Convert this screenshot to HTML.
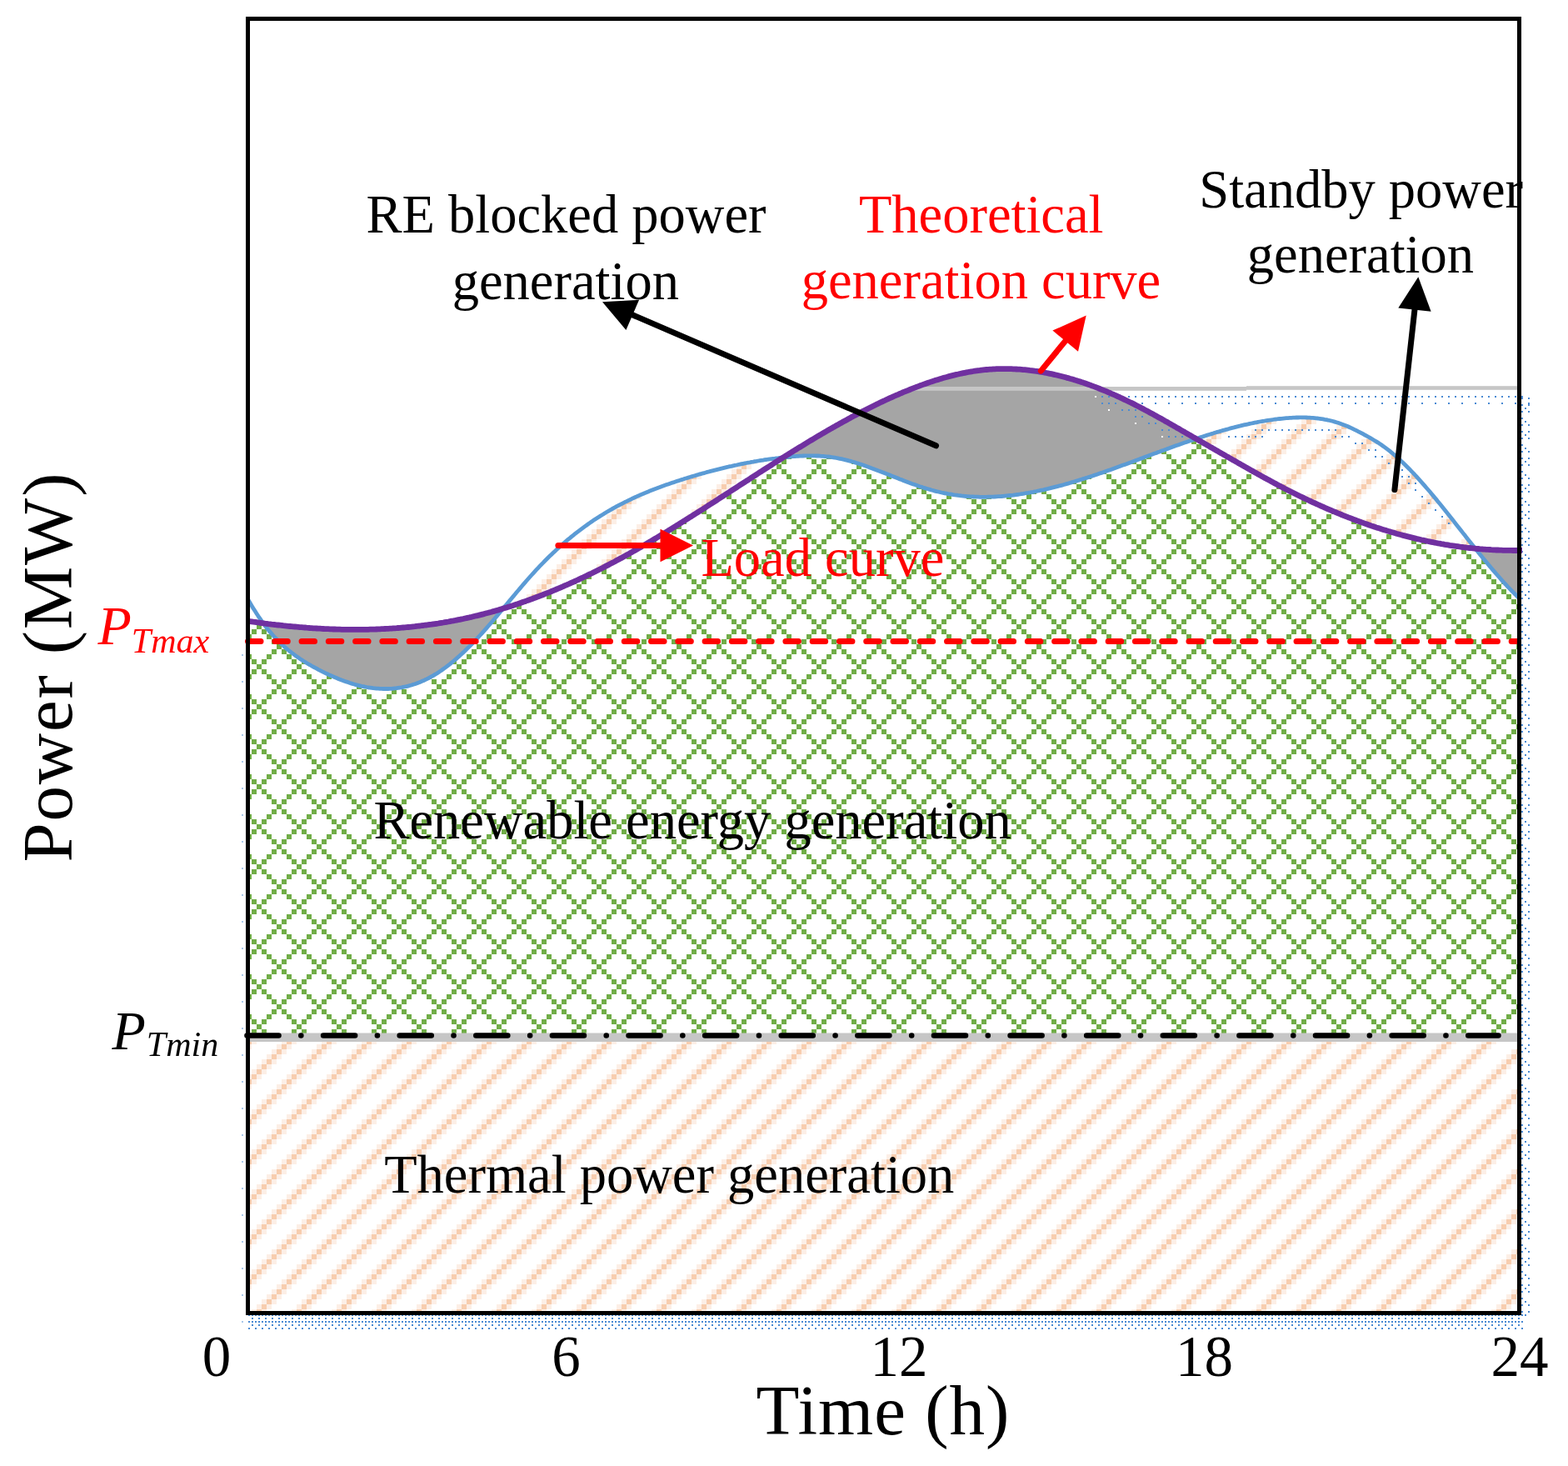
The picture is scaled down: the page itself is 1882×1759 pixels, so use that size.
<!DOCTYPE html>
<html><head><meta charset="utf-8"><title>Power generation chart</title><style>
html,body{margin:0;padding:0;background:#fff;}
svg{display:block;}
text{font-family:"Liberation Serif","Times New Roman",serif;}
</style></head><body>
<svg width="1882" height="1759" viewBox="0 0 1882 1759">
<defs>
<pattern id="pg" patternUnits="userSpaceOnUse" x="44" y="5" width="48" height="48">
<rect width="48" height="48" fill="#fff"/><g fill="#70ad47" shape-rendering="crispEdges"><rect x="0" y="0" width="6" height="6"/><rect x="6" y="6" width="6" height="6"/><rect x="6" y="42" width="6" height="6"/><rect x="12" y="12" width="6" height="6"/><rect x="12" y="36" width="6" height="6"/><rect x="18" y="18" width="6" height="6"/><rect x="18" y="30" width="6" height="6"/><rect x="24" y="24" width="6" height="6"/><rect x="30" y="18" width="6" height="6"/><rect x="30" y="30" width="6" height="6"/><rect x="36" y="12" width="6" height="6"/><rect x="36" y="36" width="6" height="6"/><rect x="42" y="6" width="6" height="6"/><rect x="42" y="42" width="6" height="6"/></g></pattern>
<pattern id="po" patternUnits="userSpaceOnUse" x="14" y="41" width="48" height="48">
<rect width="48" height="48" fill="#fff"/><g fill="#f7cdaf" shape-rendering="crispEdges"><rect x="0" y="0" width="6" height="6"/><rect x="6" y="42" width="6" height="6"/><rect x="12" y="36" width="6" height="6"/><rect x="18" y="30" width="6" height="6"/><rect x="24" y="24" width="6" height="6"/><rect x="30" y="18" width="6" height="6"/><rect x="36" y="12" width="6" height="6"/><rect x="42" y="6" width="6" height="6"/></g><g fill="#fcefe6" shape-rendering="crispEdges"><rect x="0" y="6" width="6" height="6"/><rect x="6" y="0" width="6" height="6"/><rect x="12" y="42" width="6" height="6"/><rect x="18" y="36" width="6" height="6"/><rect x="24" y="30" width="6" height="6"/><rect x="30" y="24" width="6" height="6"/><rect x="36" y="18" width="6" height="6"/><rect x="42" y="12" width="6" height="6"/><rect x="0" y="42" width="6" height="6"/><rect x="6" y="36" width="6" height="6"/><rect x="12" y="30" width="6" height="6"/><rect x="18" y="24" width="6" height="6"/><rect x="24" y="18" width="6" height="6"/><rect x="30" y="12" width="6" height="6"/><rect x="36" y="6" width="6" height="6"/><rect x="42" y="0" width="6" height="6"/></g></pattern>
<clipPath id="plot"><rect x="300" y="25" width="1521" height="1548"/></clipPath>
<clipPath id="plotr"><rect x="280" y="25" width="1541" height="1548"/></clipPath>
<clipPath id="plotw"><rect x="295" y="20" width="1532" height="1558"/></clipPath>
</defs>
<rect width="1882" height="1759" fill="#fff"/>
<g clip-path="url(#plot)">
<polygon points="300,723.2 302,726.6 304,729.9 306,733.1 308,736.2 310,739.3 312,742.2 314,745.1 316,747.9 318,750.6 320,753.2 322,755.7 324,758.1 326,760.4 328,762.7 330,764.9 332,767 334,769 336,771 338,772.9 340,774.8 342,776.6 344,778.3 346,780 348,781.6 350,783.2 352,784.7 354,786.2 356,787.6 358,789 360,790.4 362,791.7 364,793 366,794.2 368,795.5 370,796.7 372,797.8 374,799 376,800.1 378,801.2 380,802.2 382,803.3 384,804.3 386,805.3 388,806.3 390,807.3 392,808.3 394,809.2 396,810.1 398,811 400,811.9 402,812.8 404,813.6 406,814.4 408,815.2 410,816 412,816.7 414,817.5 416,818.1 418,818.8 420,819.5 422,820.1 424,820.7 426,821.3 428,821.8 430,822.3 432,822.8 434,823.3 436,823.7 438,824.1 440,824.5 442,824.8 444,825.1 446,825.4 448,825.7 450,825.9 452,826.1 454,826.2 456,826.4 458,826.4 460,826.5 462,826.5 464,826.5 466,826.5 468,826.4 470,826.3 472,826.1 474,825.9 476,825.7 478,825.4 480,825.1 482,824.8 484,824.4 486,824 488,823.6 490,823.1 492,822.5 494,822 496,821.3 498,820.7 500,820 502,819.2 504,818.5 506,817.6 508,816.8 510,815.8 512,814.9 514,813.9 516,812.8 518,811.7 520,810.6 522,809.4 524,808.2 526,806.9 528,805.6 530,804.2 532,802.8 534,801.4 536,799.9 538,798.3 540,796.8 542,795.2 544,793.5 546,791.8 548,790.1 550,788.3 552,786.6 554,784.7 556,782.9 558,781 560,779 562,777.1 564,775.1 566,773.1 568,771 570,768.9 572,766.8 574,764.7 576,762.5 578,760.3 580,758.1 582,755.9 584,753.6 586,751.3 588,749 590,746.7 592,744.3 594,742 596,739.6 598,737.2 600,734.8 602,732.5 604,730.1 606,727.6 608,725.2 610,722.8 612,720.4 614,718 616,715.6 618,713.2 620,710.8 622,708.5 624,706.1 626,703.7 628,701.4 630,699.1 632,696.8 634,694.5 636,692.2 638,690 640,687.8 642,685.6 644,683.4 646,681.3 648,679.2 650,677.1 652,675.1 654,673 656,671 658,669 660,667.1 662,665.2 664,663.3 666,661.4 668,659.5 670,657.7 672,655.9 674,654.1 676,652.3 678,650.6 680,648.9 682,647.2 684,645.6 686,643.9 688,642.3 690,640.7 692,639.1 694,637.6 696,636.1 698,634.6 700,633.1 702,631.6 704,630.2 706,628.8 708,627.4 710,626 712,624.6 714,623.3 716,622 718,620.7 720,619.4 722,618.2 724,617 726,615.7 728,614.5 730,613.4 732,612.2 734,611.1 736,609.9 738,608.8 740,607.7 742,606.7 744,605.6 746,604.6 748,603.6 750,602.5 752,601.6 754,600.6 756,599.6 758,598.7 760,597.7 762,596.8 764,595.9 766,595 768,594.1 770,593.3 772,592.4 774,591.6 776,590.7 778,589.9 780,589.1 782,588.3 784,587.5 786,586.7 788,586 790,585.2 792,584.5 794,583.7 796,583 798,582.3 800,581.6 802,580.9 804,580.2 806,579.5 808,578.9 810,578.2 812,577.5 814,576.9 816,576.2 818,575.6 820,575 822,574.3 824,573.7 826,573.1 828,572.5 830,571.9 832,571.3 834,570.7 836,570.1 838,569.5 840,568.9 842,568.4 844,567.8 846,567.3 848,566.7 850,566.2 852,565.6 854,565.1 856,564.6 858,564.1 860,563.6 862,563.1 864,562.6 866,562.1 868,561.6 870,561.1 872,560.6 874,560.2 876,559.7 878,559.3 880,558.8 882,558.4 884,558 886,557.5 888,557.1 890,556.7 892,556.3 894,555.9 896,555.5 898,555.1 900,554.8 902,554.4 904,554.1 906,553.7 908,553.4 910,553 912,552.7 914,552.4 916,552.1 918,551.7 920,551.5 922,551.2 924,550.9 926,550.6 928,550.3 930,550.1 932,549.8 934,549.6 936,549.3 938,549.1 940,548.9 942,548.7 944,548.5 946,548.3 948,548.1 950,547.9 952,547.7 954,547.6 956,547.4 958,547.3 960,547.2 962,547.1 964,547 966,546.9 968,546.9 970,546.9 972,546.8 974,546.8 976,546.9 978,546.9 980,547 982,547 984,547.1 986,547.3 988,547.4 990,547.6 992,547.8 994,548 996,548.2 998,548.5 1000,548.8 1002,549.1 1004,549.5 1006,549.9 1008,550.3 1010,550.7 1012,551.2 1014,551.6 1016,552.1 1018,552.6 1020,553.2 1022,553.7 1024,554.3 1026,554.9 1028,555.5 1030,556.1 1032,556.8 1034,557.4 1036,558.1 1038,558.8 1040,559.5 1042,560.2 1044,560.9 1046,561.7 1048,562.4 1050,563.2 1052,563.9 1054,564.7 1056,565.4 1058,566.2 1060,567 1062,567.8 1064,568.6 1066,569.3 1068,570.1 1070,570.9 1072,571.7 1074,572.5 1076,573.3 1078,574.1 1080,574.9 1082,575.6 1084,576.4 1086,577.2 1088,577.9 1090,578.7 1092,579.4 1094,580.2 1096,580.9 1098,581.6 1100,582.3 1102,583 1104,583.7 1106,584.3 1108,585 1110,585.6 1112,586.2 1114,586.8 1116,587.4 1118,588 1120,588.5 1122,589.1 1124,589.6 1126,590 1128,590.5 1130,591 1132,591.4 1134,591.8 1136,592.2 1138,592.6 1140,592.9 1142,593.2 1144,593.6 1146,593.9 1148,594.1 1150,594.4 1152,594.6 1154,594.9 1156,595.1 1158,595.3 1160,595.5 1162,595.6 1164,595.8 1166,595.9 1168,596 1170,596.1 1172,596.2 1174,596.2 1176,596.3 1178,596.3 1180,596.3 1182,596.3 1184,596.3 1186,596.2 1188,596.2 1190,596.1 1192,596.1 1194,596 1196,595.9 1198,595.7 1200,595.6 1202,595.5 1204,595.3 1206,595.1 1208,594.9 1210,594.7 1212,594.5 1214,594.3 1216,594.1 1218,593.8 1220,593.5 1222,593.3 1224,593 1226,592.7 1228,592.4 1230,592 1232,591.7 1234,591.4 1236,591 1238,590.6 1240,590.3 1242,589.9 1244,589.5 1246,589 1248,588.6 1250,588.2 1252,587.8 1254,587.3 1256,586.8 1258,586.4 1260,585.9 1262,585.4 1264,584.9 1266,584.4 1268,583.9 1270,583.4 1272,582.8 1274,582.3 1276,581.8 1278,581.2 1280,580.6 1282,580.1 1284,579.5 1286,578.9 1288,578.3 1290,577.7 1292,577.1 1294,576.5 1296,575.9 1298,575.3 1300,574.6 1302,574 1304,573.4 1306,572.7 1308,572.1 1310,571.4 1312,570.7 1314,570.1 1316,569.4 1318,568.7 1320,568 1322,567.4 1324,566.7 1326,566 1328,565.3 1330,564.6 1332,563.9 1334,563.2 1336,562.4 1338,561.7 1340,561 1342,560.3 1344,559.6 1346,558.8 1348,558.1 1350,557.4 1352,556.7 1354,555.9 1356,555.2 1358,554.5 1360,553.7 1362,553 1364,552.2 1366,551.5 1368,550.8 1370,550 1372,549.3 1374,548.5 1376,547.8 1378,547.1 1380,546.3 1382,545.6 1384,544.8 1386,544.1 1388,543.4 1390,542.6 1392,541.9 1394,541.1 1396,540.4 1398,539.7 1400,539 1402,538.2 1404,537.5 1406,536.8 1408,536.1 1410,535.3 1412,534.6 1414,533.9 1416,533.2 1418,532.5 1420,531.8 1422,531.1 1424,530.4 1426,529.7 1428,529 1430,528.4 1432,527.7 1434,527 1436,526.3 1438,525.7 1440,525 1442,524.4 1444,523.7 1446,523.1 1448,522.4 1450,521.8 1452,521.2 1454,520.6 1456,520 1458,519.3 1460,518.7 1462,518.2 1464,517.6 1466,517 1468,516.4 1470,515.9 1472,515.3 1474,514.8 1476,514.2 1478,513.7 1480,513.2 1482,512.6 1484,512.1 1486,511.6 1488,511.2 1490,510.7 1492,510.2 1494,509.7 1496,509.3 1498,508.9 1500,508.4 1502,508 1504,507.6 1506,507.2 1508,506.8 1510,506.4 1512,506 1514,505.7 1516,505.3 1518,505 1520,504.7 1522,504.4 1524,504.1 1526,503.8 1528,503.5 1530,503.2 1532,503 1534,502.7 1536,502.5 1538,502.3 1540,502.1 1542,501.9 1544,501.7 1546,501.6 1548,501.4 1550,501.3 1552,501.2 1554,501.1 1556,501 1558,501 1560,500.9 1562,500.9 1564,500.9 1566,500.9 1568,501 1570,501.1 1572,501.2 1574,501.3 1576,501.4 1578,501.6 1580,501.8 1582,502 1584,502.3 1586,502.6 1588,502.9 1590,503.3 1592,503.6 1594,504.1 1596,504.5 1598,505 1600,505.5 1602,506.1 1604,506.7 1606,507.3 1608,508 1610,508.7 1612,509.4 1614,510.2 1616,511 1618,511.8 1620,512.7 1622,513.6 1624,514.6 1626,515.6 1628,516.5 1630,517.6 1632,518.6 1634,519.6 1636,520.7 1638,521.8 1640,522.9 1642,524 1644,525.1 1646,526.3 1648,527.5 1650,528.7 1652,529.9 1654,531.1 1656,532.4 1658,533.8 1660,535.2 1662,536.6 1664,538.1 1666,539.6 1668,541.2 1670,542.8 1672,544.5 1674,546.2 1676,547.9 1678,549.7 1680,551.5 1682,553.4 1684,555.3 1686,557.2 1688,559.2 1690,561.2 1692,563.2 1694,565.3 1696,567.4 1698,569.5 1700,571.7 1702,573.9 1704,576.1 1706,578.3 1708,580.6 1710,582.9 1712,585.2 1714,587.5 1716,589.8 1718,592.2 1720,594.6 1722,597 1724,599.4 1726,601.9 1728,604.3 1730,606.8 1732,609.3 1734,611.8 1736,614.3 1738,616.8 1740,619.3 1742,621.8 1744,624.3 1746,626.9 1748,629.4 1750,631.9 1752,634.5 1754,637 1756,639.6 1758,642.1 1760,644.7 1762,647.2 1764,649.7 1766,652.2 1768,654.8 1770,657.3 1772,659.8 1774,662.3 1776,664.8 1778,667.2 1780,669.7 1782,672.1 1784,674.6 1786,677 1788,679.4 1790,681.7 1792,684.1 1794,686.4 1796,688.7 1798,691 1800,693.3 1802,695.6 1804,697.8 1806,700 1808,702.1 1810,704.3 1812,706.4 1814,708.5 1816,710.5 1818,712.5 1820,714.5 1821,715.5 1821,1575.5 300,1575.5" fill="url(#po)"/>
<polygon points="300,745.6 302,745.9 304,746.2 306,746.4 308,746.7 310,747 312,747.3 314,747.5 316,747.9 318,750.6 320,753.2 322,755.7 324,758.1 326,760.4 328,762.7 330,764.9 332,767 334,769 336,771 338,772.9 340,774.8 342,776.6 344,778.3 346,780 348,781.6 350,783.2 352,784.7 354,786.2 356,787.6 358,789 360,790.4 362,791.7 364,793 366,794.2 368,795.5 370,796.7 372,797.8 374,799 376,800.1 378,801.2 380,802.2 382,803.3 384,804.3 386,805.3 388,806.3 390,807.3 392,808.3 394,809.2 396,810.1 398,811 400,811.9 402,812.8 404,813.6 406,814.4 408,815.2 410,816 412,816.7 414,817.5 416,818.1 418,818.8 420,819.5 422,820.1 424,820.7 426,821.3 428,821.8 430,822.3 432,822.8 434,823.3 436,823.7 438,824.1 440,824.5 442,824.8 444,825.1 446,825.4 448,825.7 450,825.9 452,826.1 454,826.2 456,826.4 458,826.4 460,826.5 462,826.5 464,826.5 466,826.5 468,826.4 470,826.3 472,826.1 474,825.9 476,825.7 478,825.4 480,825.1 482,824.8 484,824.4 486,824 488,823.6 490,823.1 492,822.5 494,822 496,821.3 498,820.7 500,820 502,819.2 504,818.5 506,817.6 508,816.8 510,815.8 512,814.9 514,813.9 516,812.8 518,811.7 520,810.6 522,809.4 524,808.2 526,806.9 528,805.6 530,804.2 532,802.8 534,801.4 536,799.9 538,798.3 540,796.8 542,795.2 544,793.5 546,791.8 548,790.1 550,788.3 552,786.6 554,784.7 556,782.9 558,781 560,779 562,777.1 564,775.1 566,773.1 568,771 570,768.9 572,766.8 574,764.7 576,762.5 578,760.3 580,758.1 582,755.9 584,753.6 586,751.3 588,749 590,746.7 592,744.3 594,742 596,739.6 598,737.2 600,734.8 602,732.5 604,730.1 606,729.5 608,728.9 610,728.3 612,727.7 614,727 616,726.4 618,725.7 620,725.1 622,724.4 624,723.7 626,723 628,722.3 630,721.6 632,720.9 634,720.2 636,719.5 638,718.8 640,718 642,717.3 644,716.5 646,715.8 648,715 650,714.3 652,713.5 654,712.7 656,711.9 658,711.1 660,710.3 662,709.5 664,708.7 666,707.8 668,707 670,706.2 672,705.3 674,704.5 676,703.6 678,702.7 680,701.9 682,701 684,700.1 686,699.2 688,698.3 690,697.4 692,696.5 694,695.6 696,694.6 698,693.7 700,692.8 702,691.8 704,690.9 706,689.9 708,688.9 710,688 712,687 714,686 716,685 718,684 720,683 722,682 724,681 726,679.9 728,678.9 730,677.9 732,676.8 734,675.8 736,674.7 738,673.7 740,672.6 742,671.5 744,670.4 746,669.4 748,668.3 750,667.2 752,666.1 754,665 756,663.8 758,662.7 760,661.6 762,660.5 764,659.3 766,658.2 768,657 770,655.9 772,654.7 774,653.6 776,652.4 778,651.2 780,650.1 782,648.9 784,647.7 786,646.5 788,645.3 790,644.1 792,642.9 794,641.7 796,640.5 798,639.3 800,638.1 802,636.9 804,635.6 806,634.4 808,633.2 810,632 812,630.7 814,629.5 816,628.2 818,627 820,625.7 822,624.5 824,623.2 826,622 828,620.7 830,619.5 832,618.2 834,616.9 836,615.7 838,614.4 840,613.1 842,611.8 844,610.6 846,609.3 848,608 850,606.7 852,605.4 854,604.2 856,602.9 858,601.6 860,600.3 862,599 864,597.7 866,596.4 868,595.1 870,593.9 872,592.6 874,591.3 876,590 878,588.7 880,587.4 882,586.1 884,584.8 886,583.5 888,582.2 890,580.9 892,579.6 894,578.3 896,577 898,575.8 900,574.5 902,573.2 904,571.9 906,570.6 908,569.3 910,568 912,566.7 914,565.5 916,564.2 918,562.9 920,561.6 922,560.3 924,559.1 926,557.8 928,556.5 930,555.2 932,554 934,552.7 936,551.5 938,550.2 940,548.9 942,548.7 944,548.5 946,548.3 948,548.1 950,547.9 952,547.7 954,547.6 956,547.4 958,547.3 960,547.2 962,547.1 964,547 966,546.9 968,546.9 970,546.9 972,546.8 974,546.8 976,546.9 978,546.9 980,547 982,547 984,547.1 986,547.3 988,547.4 990,547.6 992,547.8 994,548 996,548.2 998,548.5 1000,548.8 1002,549.1 1004,549.5 1006,549.9 1008,550.3 1010,550.7 1012,551.2 1014,551.6 1016,552.1 1018,552.6 1020,553.2 1022,553.7 1024,554.3 1026,554.9 1028,555.5 1030,556.1 1032,556.8 1034,557.4 1036,558.1 1038,558.8 1040,559.5 1042,560.2 1044,560.9 1046,561.7 1048,562.4 1050,563.2 1052,563.9 1054,564.7 1056,565.4 1058,566.2 1060,567 1062,567.8 1064,568.6 1066,569.3 1068,570.1 1070,570.9 1072,571.7 1074,572.5 1076,573.3 1078,574.1 1080,574.9 1082,575.6 1084,576.4 1086,577.2 1088,577.9 1090,578.7 1092,579.4 1094,580.2 1096,580.9 1098,581.6 1100,582.3 1102,583 1104,583.7 1106,584.3 1108,585 1110,585.6 1112,586.2 1114,586.8 1116,587.4 1118,588 1120,588.5 1122,589.1 1124,589.6 1126,590 1128,590.5 1130,591 1132,591.4 1134,591.8 1136,592.2 1138,592.6 1140,592.9 1142,593.2 1144,593.6 1146,593.9 1148,594.1 1150,594.4 1152,594.6 1154,594.9 1156,595.1 1158,595.3 1160,595.5 1162,595.6 1164,595.8 1166,595.9 1168,596 1170,596.1 1172,596.2 1174,596.2 1176,596.3 1178,596.3 1180,596.3 1182,596.3 1184,596.3 1186,596.2 1188,596.2 1190,596.1 1192,596.1 1194,596 1196,595.9 1198,595.7 1200,595.6 1202,595.5 1204,595.3 1206,595.1 1208,594.9 1210,594.7 1212,594.5 1214,594.3 1216,594.1 1218,593.8 1220,593.5 1222,593.3 1224,593 1226,592.7 1228,592.4 1230,592 1232,591.7 1234,591.4 1236,591 1238,590.6 1240,590.3 1242,589.9 1244,589.5 1246,589 1248,588.6 1250,588.2 1252,587.8 1254,587.3 1256,586.8 1258,586.4 1260,585.9 1262,585.4 1264,584.9 1266,584.4 1268,583.9 1270,583.4 1272,582.8 1274,582.3 1276,581.8 1278,581.2 1280,580.6 1282,580.1 1284,579.5 1286,578.9 1288,578.3 1290,577.7 1292,577.1 1294,576.5 1296,575.9 1298,575.3 1300,574.6 1302,574 1304,573.4 1306,572.7 1308,572.1 1310,571.4 1312,570.7 1314,570.1 1316,569.4 1318,568.7 1320,568 1322,567.4 1324,566.7 1326,566 1328,565.3 1330,564.6 1332,563.9 1334,563.2 1336,562.4 1338,561.7 1340,561 1342,560.3 1344,559.6 1346,558.8 1348,558.1 1350,557.4 1352,556.7 1354,555.9 1356,555.2 1358,554.5 1360,553.7 1362,553 1364,552.2 1366,551.5 1368,550.8 1370,550 1372,549.3 1374,548.5 1376,547.8 1378,547.1 1380,546.3 1382,545.6 1384,544.8 1386,544.1 1388,543.4 1390,542.6 1392,541.9 1394,541.1 1396,540.4 1398,539.7 1400,539 1402,538.2 1404,537.5 1406,536.8 1408,536.1 1410,535.3 1412,534.6 1414,533.9 1416,533.2 1418,532.5 1420,531.8 1422,531.1 1424,530.4 1426,529.7 1428,529 1430,528.4 1432,527.7 1434,527 1436,526.7 1438,527.8 1440,529 1442,530.1 1444,531.3 1446,532.4 1448,533.6 1450,534.7 1452,535.9 1454,537 1456,538.2 1458,539.3 1460,540.5 1462,541.6 1464,542.8 1466,543.9 1468,545.1 1470,546.2 1472,547.4 1474,548.5 1476,549.7 1478,550.8 1480,552 1482,553.1 1484,554.2 1486,555.4 1488,556.5 1490,557.7 1492,558.8 1494,559.9 1496,561.1 1498,562.2 1500,563.3 1502,564.5 1504,565.6 1506,566.7 1508,567.8 1510,568.9 1512,570 1514,571.2 1516,572.3 1518,573.4 1520,574.4 1522,575.5 1524,576.6 1526,577.7 1528,578.8 1530,579.9 1532,580.9 1534,582 1536,583 1538,584.1 1540,585.1 1542,586.2 1544,587.2 1546,588.2 1548,589.2 1550,590.2 1552,591.2 1554,592.2 1556,593.2 1558,594.2 1560,595.2 1562,596.2 1564,597.1 1566,598.1 1568,599 1570,600 1572,600.9 1574,601.9 1576,602.8 1578,603.7 1580,604.6 1582,605.5 1584,606.4 1586,607.3 1588,608.2 1590,609.1 1592,610 1594,610.8 1596,611.7 1598,612.5 1600,613.4 1602,614.2 1604,615 1606,615.9 1608,616.7 1610,617.5 1612,618.3 1614,619.1 1616,619.9 1618,620.7 1620,621.4 1622,622.2 1624,623 1626,623.7 1628,624.5 1630,625.2 1632,625.9 1634,626.7 1636,627.4 1638,628.1 1640,628.8 1642,629.5 1644,630.2 1646,630.9 1648,631.5 1650,632.2 1652,632.9 1654,633.5 1656,634.1 1658,634.8 1660,635.4 1662,636 1664,636.6 1666,637.3 1668,637.8 1670,638.4 1672,639 1674,639.6 1676,640.2 1678,640.7 1680,641.3 1682,641.8 1684,642.4 1686,642.9 1688,643.4 1690,643.9 1692,644.4 1694,644.9 1696,645.4 1698,645.9 1700,646.4 1702,646.8 1704,647.3 1706,647.8 1708,648.2 1710,648.6 1712,649.1 1714,649.5 1716,649.9 1718,650.3 1720,650.7 1722,651.1 1724,651.5 1726,651.9 1728,652.2 1730,652.6 1732,652.9 1734,653.3 1736,653.6 1738,653.9 1740,654.3 1742,654.6 1744,654.9 1746,655.2 1748,655.5 1750,655.7 1752,656 1754,656.3 1756,656.5 1758,656.8 1760,657 1762,657.3 1764,657.5 1766,657.7 1768,657.9 1770,658.1 1772,659.8 1774,662.3 1776,664.8 1778,667.2 1780,669.7 1782,672.1 1784,674.6 1786,677 1788,679.4 1790,681.7 1792,684.1 1794,686.4 1796,688.7 1798,691 1800,693.3 1802,695.6 1804,697.8 1806,700 1808,702.1 1810,704.3 1812,706.4 1814,708.5 1816,710.5 1818,712.5 1820,714.5 1821,715.5 1821,1240 300,1240" fill="url(#pg)"/>
<polygon points="300,745.6 302,745.9 304,746.2 306,746.4 308,746.7 310,747 312,747.3 314,747.5 316,747.8 318,748.1 320,748.3 322,748.6 324,748.8 326,749.1 328,749.3 330,749.5 332,749.8 334,750 336,750.2 338,750.4 340,750.7 342,750.9 344,751.1 346,751.3 348,751.5 350,751.7 352,751.9 354,752 356,752.2 358,752.4 360,752.6 362,752.7 364,752.9 366,753 368,753.2 370,753.3 372,753.5 374,753.6 376,753.8 378,753.9 380,754 382,754.1 384,754.2 386,754.4 388,754.5 390,754.6 392,754.6 394,754.7 396,754.8 398,754.9 400,755 402,755 404,755.1 406,755.2 408,755.2 410,755.3 412,755.3 414,755.3 416,755.4 418,755.4 420,755.4 422,755.4 424,755.4 426,755.4 428,755.4 430,755.4 432,755.4 434,755.4 436,755.4 438,755.4 440,755.3 442,755.3 444,755.2 446,755.2 448,755.1 450,755.1 452,755 454,754.9 456,754.8 458,754.7 460,754.6 462,754.5 464,754.4 466,754.3 468,754.2 470,754.1 472,753.9 474,753.8 476,753.7 478,753.5 480,753.4 482,753.2 484,753 486,752.9 488,752.7 490,752.5 492,752.3 494,752.1 496,751.9 498,751.7 500,751.4 502,751.2 504,751 506,750.7 508,750.5 510,750.2 512,750 514,749.7 516,749.4 518,749.2 520,748.9 522,748.6 524,748.3 526,748 528,747.6 530,747.3 532,747 534,746.6 536,746.3 538,746 540,745.6 542,745.2 544,744.9 546,744.5 548,744.1 550,743.7 552,743.3 554,742.9 556,742.5 558,742 560,741.6 562,741.2 564,740.7 566,740.3 568,739.8 570,739.3 572,738.8 574,738.4 576,737.9 578,737.4 580,736.9 582,736.3 584,735.8 586,735.3 588,734.7 590,734.2 592,733.6 594,733.1 596,732.5 598,731.9 600,731.3 602,730.7 604,730.1 606,729.5 608,728.9 610,728.3 612,727.7 614,727 616,726.4 618,725.7 620,725.1 622,724.4 624,723.7 626,723 628,722.3 630,721.6 632,720.9 634,720.2 636,719.5 638,718.8 640,718 642,717.3 644,716.5 646,715.8 648,715 650,714.3 652,713.5 654,712.7 656,711.9 658,711.1 660,710.3 662,709.5 664,708.7 666,707.8 668,707 670,706.2 672,705.3 674,704.5 676,703.6 678,702.7 680,701.9 682,701 684,700.1 686,699.2 688,698.3 690,697.4 692,696.5 694,695.6 696,694.6 698,693.7 700,692.8 702,691.8 704,690.9 706,689.9 708,688.9 710,688 712,687 714,686 716,685 718,684 720,683 722,682 724,681 726,679.9 728,678.9 730,677.9 732,676.8 734,675.8 736,674.7 738,673.7 740,672.6 742,671.5 744,670.4 746,669.4 748,668.3 750,667.2 752,666.1 754,665 756,663.8 758,662.7 760,661.6 762,660.5 764,659.3 766,658.2 768,657 770,655.9 772,654.7 774,653.6 776,652.4 778,651.2 780,650.1 782,648.9 784,647.7 786,646.5 788,645.3 790,644.1 792,642.9 794,641.7 796,640.5 798,639.3 800,638.1 802,636.9 804,635.6 806,634.4 808,633.2 810,632 812,630.7 814,629.5 816,628.2 818,627 820,625.7 822,624.5 824,623.2 826,622 828,620.7 830,619.5 832,618.2 834,616.9 836,615.7 838,614.4 840,613.1 842,611.8 844,610.6 846,609.3 848,608 850,606.7 852,605.4 854,604.2 856,602.9 858,601.6 860,600.3 862,599 864,597.7 866,596.4 868,595.1 870,593.9 872,592.6 874,591.3 876,590 878,588.7 880,587.4 882,586.1 884,584.8 886,583.5 888,582.2 890,580.9 892,579.6 894,578.3 896,577 898,575.8 900,574.5 902,573.2 904,571.9 906,570.6 908,569.3 910,568 912,566.7 914,565.5 916,564.2 918,562.9 920,561.6 922,560.3 924,559.1 926,557.8 928,556.5 930,555.2 932,554 934,552.7 936,551.5 938,550.2 940,548.9 942,547.7 944,546.4 946,545.2 948,543.9 950,542.7 952,541.4 954,540.2 956,539 958,537.7 960,536.5 962,535.3 964,534.1 966,532.8 968,531.6 970,530.4 972,529.2 974,528 976,526.8 978,525.6 980,524.4 982,523.2 984,522.1 986,520.9 988,519.7 990,518.6 992,517.4 994,516.2 996,515.1 998,513.9 1000,512.8 1002,511.7 1004,510.5 1006,509.4 1008,508.3 1010,507.2 1012,506.1 1014,505 1016,503.9 1018,502.8 1020,501.7 1022,500.6 1024,499.5 1026,498.5 1028,497.4 1030,496.4 1032,495.3 1034,494.3 1036,493.2 1038,492.2 1040,491.2 1042,490.2 1044,489.2 1046,488.2 1048,487.2 1050,486.2 1052,485.2 1054,484.3 1056,483.3 1058,482.3 1060,481.4 1062,480.5 1064,479.5 1066,478.6 1068,477.7 1070,476.8 1072,475.9 1074,475 1076,474.1 1078,473.3 1080,472.4 1082,471.6 1084,470.7 1086,469.9 1088,469.1 1090,468.3 1092,467.5 1094,466.7 1096,465.9 1098,465.1 1100,464.3 1102,463.6 1104,462.8 1106,462.1 1108,461.4 1110,460.7 1112,460 1114,459.3 1116,458.6 1118,457.9 1120,457.3 1122,456.6 1124,456 1126,455.4 1128,454.8 1130,454.2 1132,453.6 1134,453 1136,452.5 1138,451.9 1140,451.4 1142,450.9 1144,450.4 1146,449.9 1148,449.4 1150,449 1152,448.5 1154,448.1 1156,447.7 1158,447.3 1160,446.9 1162,446.5 1164,446.2 1166,445.8 1168,445.5 1170,445.2 1172,444.9 1174,444.6 1176,444.4 1178,444.1 1180,443.9 1182,443.7 1184,443.5 1186,443.3 1188,443.2 1190,443.1 1192,442.9 1194,442.8 1196,442.7 1198,442.7 1200,442.6 1202,442.6 1204,442.6 1206,442.6 1208,442.6 1210,442.6 1212,442.6 1214,442.7 1216,442.8 1218,442.9 1220,443 1222,443.1 1224,443.2 1226,443.4 1228,443.6 1230,443.7 1232,443.9 1234,444.1 1236,444.4 1238,444.6 1240,444.9 1242,445.2 1244,445.4 1246,445.7 1248,446.1 1250,446.4 1252,446.7 1254,447.1 1256,447.5 1258,447.9 1260,448.3 1262,448.7 1264,449.1 1266,449.6 1268,450 1270,450.5 1272,451 1274,451.5 1276,452 1278,452.5 1280,453.1 1282,453.6 1284,454.2 1286,454.7 1288,455.3 1290,455.9 1292,456.6 1294,457.2 1296,457.8 1298,458.5 1300,459.1 1302,459.8 1304,460.5 1306,461.2 1308,461.9 1310,462.7 1312,463.4 1314,464.1 1316,464.9 1318,465.7 1320,466.5 1322,467.3 1324,468.1 1326,468.9 1328,469.7 1330,470.6 1332,471.4 1334,472.3 1336,473.1 1338,474 1340,474.9 1342,475.8 1344,476.7 1346,477.7 1348,478.6 1350,479.6 1352,480.5 1354,481.5 1356,482.5 1358,483.4 1360,484.4 1362,485.4 1364,486.5 1366,487.5 1368,488.5 1370,489.6 1372,490.6 1374,491.7 1376,492.7 1378,493.8 1380,494.9 1382,496 1384,497.1 1386,498.2 1388,499.3 1390,500.4 1392,501.5 1394,502.6 1396,503.7 1398,504.9 1400,506 1402,507.1 1404,508.3 1406,509.4 1408,510.6 1410,511.7 1412,512.9 1414,514 1416,515.1 1418,516.3 1420,517.5 1422,518.6 1424,519.8 1426,520.9 1428,522.1 1430,523.2 1432,524.4 1434,525.5 1436,526.7 1438,527.8 1440,529 1442,530.1 1444,531.3 1446,532.4 1448,533.6 1450,534.7 1452,535.9 1454,537 1456,538.2 1458,539.3 1460,540.5 1462,541.6 1464,542.8 1466,543.9 1468,545.1 1470,546.2 1472,547.4 1474,548.5 1476,549.7 1478,550.8 1480,552 1482,553.1 1484,554.2 1486,555.4 1488,556.5 1490,557.7 1492,558.8 1494,559.9 1496,561.1 1498,562.2 1500,563.3 1502,564.5 1504,565.6 1506,566.7 1508,567.8 1510,568.9 1512,570 1514,571.2 1516,572.3 1518,573.4 1520,574.4 1522,575.5 1524,576.6 1526,577.7 1528,578.8 1530,579.9 1532,580.9 1534,582 1536,583 1538,584.1 1540,585.1 1542,586.2 1544,587.2 1546,588.2 1548,589.2 1550,590.2 1552,591.2 1554,592.2 1556,593.2 1558,594.2 1560,595.2 1562,596.2 1564,597.1 1566,598.1 1568,599 1570,600 1572,600.9 1574,601.9 1576,602.8 1578,603.7 1580,604.6 1582,605.5 1584,606.4 1586,607.3 1588,608.2 1590,609.1 1592,610 1594,610.8 1596,611.7 1598,612.5 1600,613.4 1602,614.2 1604,615 1606,615.9 1608,616.7 1610,617.5 1612,618.3 1614,619.1 1616,619.9 1618,620.7 1620,621.4 1622,622.2 1624,623 1626,623.7 1628,624.5 1630,625.2 1632,625.9 1634,626.7 1636,627.4 1638,628.1 1640,628.8 1642,629.5 1644,630.2 1646,630.9 1648,631.5 1650,632.2 1652,632.9 1654,633.5 1656,634.1 1658,634.8 1660,635.4 1662,636 1664,636.6 1666,637.3 1668,637.8 1670,638.4 1672,639 1674,639.6 1676,640.2 1678,640.7 1680,641.3 1682,641.8 1684,642.4 1686,642.9 1688,643.4 1690,643.9 1692,644.4 1694,644.9 1696,645.4 1698,645.9 1700,646.4 1702,646.8 1704,647.3 1706,647.8 1708,648.2 1710,648.6 1712,649.1 1714,649.5 1716,649.9 1718,650.3 1720,650.7 1722,651.1 1724,651.5 1726,651.9 1728,652.2 1730,652.6 1732,652.9 1734,653.3 1736,653.6 1738,653.9 1740,654.3 1742,654.6 1744,654.9 1746,655.2 1748,655.5 1750,655.7 1752,656 1754,656.3 1756,656.5 1758,656.8 1760,657 1762,657.3 1764,657.5 1766,657.7 1768,657.9 1770,658.1 1772,658.3 1774,658.5 1776,658.7 1778,658.8 1780,659 1782,659.1 1784,659.3 1786,659.4 1788,659.5 1790,659.7 1792,659.8 1794,659.9 1796,660 1798,660 1800,660.1 1802,660.2 1804,660.3 1806,660.3 1808,660.4 1810,660.4 1812,660.4 1814,660.4 1816,660.5 1818,660.5 1820,660.5 1821,660.5 1821,715.5 1820,714.5 1818,712.5 1816,710.5 1814,708.5 1812,706.4 1810,704.3 1808,702.1 1806,700 1804,697.8 1802,695.6 1800,693.3 1798,691 1796,688.7 1794,686.4 1792,684.1 1790,681.7 1788,679.4 1786,677 1784,674.6 1782,672.1 1780,669.7 1778,667.2 1776,664.8 1774,662.3 1772,659.8 1770,658.1 1768,657.9 1766,657.7 1764,657.5 1762,657.3 1760,657 1758,656.8 1756,656.5 1754,656.3 1752,656 1750,655.7 1748,655.5 1746,655.2 1744,654.9 1742,654.6 1740,654.3 1738,653.9 1736,653.6 1734,653.3 1732,652.9 1730,652.6 1728,652.2 1726,651.9 1724,651.5 1722,651.1 1720,650.7 1718,650.3 1716,649.9 1714,649.5 1712,649.1 1710,648.6 1708,648.2 1706,647.8 1704,647.3 1702,646.8 1700,646.4 1698,645.9 1696,645.4 1694,644.9 1692,644.4 1690,643.9 1688,643.4 1686,642.9 1684,642.4 1682,641.8 1680,641.3 1678,640.7 1676,640.2 1674,639.6 1672,639 1670,638.4 1668,637.8 1666,637.3 1664,636.6 1662,636 1660,635.4 1658,634.8 1656,634.1 1654,633.5 1652,632.9 1650,632.2 1648,631.5 1646,630.9 1644,630.2 1642,629.5 1640,628.8 1638,628.1 1636,627.4 1634,626.7 1632,625.9 1630,625.2 1628,624.5 1626,623.7 1624,623 1622,622.2 1620,621.4 1618,620.7 1616,619.9 1614,619.1 1612,618.3 1610,617.5 1608,616.7 1606,615.9 1604,615 1602,614.2 1600,613.4 1598,612.5 1596,611.7 1594,610.8 1592,610 1590,609.1 1588,608.2 1586,607.3 1584,606.4 1582,605.5 1580,604.6 1578,603.7 1576,602.8 1574,601.9 1572,600.9 1570,600 1568,599 1566,598.1 1564,597.1 1562,596.2 1560,595.2 1558,594.2 1556,593.2 1554,592.2 1552,591.2 1550,590.2 1548,589.2 1546,588.2 1544,587.2 1542,586.2 1540,585.1 1538,584.1 1536,583 1534,582 1532,580.9 1530,579.9 1528,578.8 1526,577.7 1524,576.6 1522,575.5 1520,574.4 1518,573.4 1516,572.3 1514,571.2 1512,570 1510,568.9 1508,567.8 1506,566.7 1504,565.6 1502,564.5 1500,563.3 1498,562.2 1496,561.1 1494,559.9 1492,558.8 1490,557.7 1488,556.5 1486,555.4 1484,554.2 1482,553.1 1480,552 1478,550.8 1476,549.7 1474,548.5 1472,547.4 1470,546.2 1468,545.1 1466,543.9 1464,542.8 1462,541.6 1460,540.5 1458,539.3 1456,538.2 1454,537 1452,535.9 1450,534.7 1448,533.6 1446,532.4 1444,531.3 1442,530.1 1440,529 1438,527.8 1436,526.7 1434,527 1432,527.7 1430,528.4 1428,529 1426,529.7 1424,530.4 1422,531.1 1420,531.8 1418,532.5 1416,533.2 1414,533.9 1412,534.6 1410,535.3 1408,536.1 1406,536.8 1404,537.5 1402,538.2 1400,539 1398,539.7 1396,540.4 1394,541.1 1392,541.9 1390,542.6 1388,543.4 1386,544.1 1384,544.8 1382,545.6 1380,546.3 1378,547.1 1376,547.8 1374,548.5 1372,549.3 1370,550 1368,550.8 1366,551.5 1364,552.2 1362,553 1360,553.7 1358,554.5 1356,555.2 1354,555.9 1352,556.7 1350,557.4 1348,558.1 1346,558.8 1344,559.6 1342,560.3 1340,561 1338,561.7 1336,562.4 1334,563.2 1332,563.9 1330,564.6 1328,565.3 1326,566 1324,566.7 1322,567.4 1320,568 1318,568.7 1316,569.4 1314,570.1 1312,570.7 1310,571.4 1308,572.1 1306,572.7 1304,573.4 1302,574 1300,574.6 1298,575.3 1296,575.9 1294,576.5 1292,577.1 1290,577.7 1288,578.3 1286,578.9 1284,579.5 1282,580.1 1280,580.6 1278,581.2 1276,581.8 1274,582.3 1272,582.8 1270,583.4 1268,583.9 1266,584.4 1264,584.9 1262,585.4 1260,585.9 1258,586.4 1256,586.8 1254,587.3 1252,587.8 1250,588.2 1248,588.6 1246,589 1244,589.5 1242,589.9 1240,590.3 1238,590.6 1236,591 1234,591.4 1232,591.7 1230,592 1228,592.4 1226,592.7 1224,593 1222,593.3 1220,593.5 1218,593.8 1216,594.1 1214,594.3 1212,594.5 1210,594.7 1208,594.9 1206,595.1 1204,595.3 1202,595.5 1200,595.6 1198,595.7 1196,595.9 1194,596 1192,596.1 1190,596.1 1188,596.2 1186,596.2 1184,596.3 1182,596.3 1180,596.3 1178,596.3 1176,596.3 1174,596.2 1172,596.2 1170,596.1 1168,596 1166,595.9 1164,595.8 1162,595.6 1160,595.5 1158,595.3 1156,595.1 1154,594.9 1152,594.6 1150,594.4 1148,594.1 1146,593.9 1144,593.6 1142,593.2 1140,592.9 1138,592.6 1136,592.2 1134,591.8 1132,591.4 1130,591 1128,590.5 1126,590 1124,589.6 1122,589.1 1120,588.5 1118,588 1116,587.4 1114,586.8 1112,586.2 1110,585.6 1108,585 1106,584.3 1104,583.7 1102,583 1100,582.3 1098,581.6 1096,580.9 1094,580.2 1092,579.4 1090,578.7 1088,577.9 1086,577.2 1084,576.4 1082,575.6 1080,574.9 1078,574.1 1076,573.3 1074,572.5 1072,571.7 1070,570.9 1068,570.1 1066,569.3 1064,568.6 1062,567.8 1060,567 1058,566.2 1056,565.4 1054,564.7 1052,563.9 1050,563.2 1048,562.4 1046,561.7 1044,560.9 1042,560.2 1040,559.5 1038,558.8 1036,558.1 1034,557.4 1032,556.8 1030,556.1 1028,555.5 1026,554.9 1024,554.3 1022,553.7 1020,553.2 1018,552.6 1016,552.1 1014,551.6 1012,551.2 1010,550.7 1008,550.3 1006,549.9 1004,549.5 1002,549.1 1000,548.8 998,548.5 996,548.2 994,548 992,547.8 990,547.6 988,547.4 986,547.3 984,547.1 982,547 980,547 978,546.9 976,546.9 974,546.8 972,546.8 970,546.9 968,546.9 966,546.9 964,547 962,547.1 960,547.2 958,547.3 956,547.4 954,547.6 952,547.7 950,547.9 948,548.1 946,548.3 944,548.5 942,548.7 940,548.9 938,550.2 936,551.5 934,552.7 932,554 930,555.2 928,556.5 926,557.8 924,559.1 922,560.3 920,561.6 918,562.9 916,564.2 914,565.5 912,566.7 910,568 908,569.3 906,570.6 904,571.9 902,573.2 900,574.5 898,575.8 896,577 894,578.3 892,579.6 890,580.9 888,582.2 886,583.5 884,584.8 882,586.1 880,587.4 878,588.7 876,590 874,591.3 872,592.6 870,593.9 868,595.1 866,596.4 864,597.7 862,599 860,600.3 858,601.6 856,602.9 854,604.2 852,605.4 850,606.7 848,608 846,609.3 844,610.6 842,611.8 840,613.1 838,614.4 836,615.7 834,616.9 832,618.2 830,619.5 828,620.7 826,622 824,623.2 822,624.5 820,625.7 818,627 816,628.2 814,629.5 812,630.7 810,632 808,633.2 806,634.4 804,635.6 802,636.9 800,638.1 798,639.3 796,640.5 794,641.7 792,642.9 790,644.1 788,645.3 786,646.5 784,647.7 782,648.9 780,650.1 778,651.2 776,652.4 774,653.6 772,654.7 770,655.9 768,657 766,658.2 764,659.3 762,660.5 760,661.6 758,662.7 756,663.8 754,665 752,666.1 750,667.2 748,668.3 746,669.4 744,670.4 742,671.5 740,672.6 738,673.7 736,674.7 734,675.8 732,676.8 730,677.9 728,678.9 726,679.9 724,681 722,682 720,683 718,684 716,685 714,686 712,687 710,688 708,688.9 706,689.9 704,690.9 702,691.8 700,692.8 698,693.7 696,694.6 694,695.6 692,696.5 690,697.4 688,698.3 686,699.2 684,700.1 682,701 680,701.9 678,702.7 676,703.6 674,704.5 672,705.3 670,706.2 668,707 666,707.8 664,708.7 662,709.5 660,710.3 658,711.1 656,711.9 654,712.7 652,713.5 650,714.3 648,715 646,715.8 644,716.5 642,717.3 640,718 638,718.8 636,719.5 634,720.2 632,720.9 630,721.6 628,722.3 626,723 624,723.7 622,724.4 620,725.1 618,725.7 616,726.4 614,727 612,727.7 610,728.3 608,728.9 606,729.5 604,730.1 602,732.5 600,734.8 598,737.2 596,739.6 594,742 592,744.3 590,746.7 588,749 586,751.3 584,753.6 582,755.9 580,758.1 578,760.3 576,762.5 574,764.7 572,766.8 570,768.9 568,771 566,773.1 564,775.1 562,777.1 560,779 558,781 556,782.9 554,784.7 552,786.6 550,788.3 548,790.1 546,791.8 544,793.5 542,795.2 540,796.8 538,798.3 536,799.9 534,801.4 532,802.8 530,804.2 528,805.6 526,806.9 524,808.2 522,809.4 520,810.6 518,811.7 516,812.8 514,813.9 512,814.9 510,815.8 508,816.8 506,817.6 504,818.5 502,819.2 500,820 498,820.7 496,821.3 494,822 492,822.5 490,823.1 488,823.6 486,824 484,824.4 482,824.8 480,825.1 478,825.4 476,825.7 474,825.9 472,826.1 470,826.3 468,826.4 466,826.5 464,826.5 462,826.5 460,826.5 458,826.4 456,826.4 454,826.2 452,826.1 450,825.9 448,825.7 446,825.4 444,825.1 442,824.8 440,824.5 438,824.1 436,823.7 434,823.3 432,822.8 430,822.3 428,821.8 426,821.3 424,820.7 422,820.1 420,819.5 418,818.8 416,818.1 414,817.5 412,816.7 410,816 408,815.2 406,814.4 404,813.6 402,812.8 400,811.9 398,811 396,810.1 394,809.2 392,808.3 390,807.3 388,806.3 386,805.3 384,804.3 382,803.3 380,802.2 378,801.2 376,800.1 374,799 372,797.8 370,796.7 368,795.5 366,794.2 364,793 362,791.7 360,790.4 358,789 356,787.6 354,786.2 352,784.7 350,783.2 348,781.6 346,780 344,778.3 342,776.6 340,774.8 338,772.9 336,771 334,769 332,767 330,764.9 328,762.7 326,760.4 324,758.1 322,755.7 320,753.2 318,750.6 316,747.9 314,747.5 312,747.3 310,747 308,746.7 306,746.4 304,746.2 302,745.9 300,745.6" fill="#a5a5a5"/>
<rect x="300" y="1239.5" width="1521" height="10.5" fill="#c6c6c6"/>
<rect x="1095" y="464" width="401" height="4.8" fill="#c6c6c6"/>
<rect x="1496" y="463.2" width="325" height="4.6" fill="#c6c6c6"/>
</g>
<path d="M1322,475h2v2h-2zM1330,475h2v2h-2zM1338,475h2v2h-2zM1346,475h2v2h-2zM1354,475h2v2h-2zM1362,475h2v2h-2zM1370,475h2v2h-2zM1378,475h2v2h-2zM1386,475h2v2h-2zM1394,475h2v2h-2zM1402,475h2v2h-2zM1410,475h2v2h-2zM1418,475h2v2h-2zM1426,475h2v2h-2zM1434,475h2v2h-2zM1442,475h2v2h-2zM1450,475h2v2h-2zM1458,475h2v2h-2zM1466,475h2v2h-2zM1474,475h2v2h-2zM1482,475h2v2h-2zM1490,475h2v2h-2zM1498,475h2v2h-2zM1506,475h2v2h-2zM1514,475h2v2h-2zM1522,475h2v2h-2zM1530,475h2v2h-2zM1538,475h2v2h-2zM1546,475h2v2h-2zM1554,475h2v2h-2zM1562,475h2v2h-2zM1570,475h2v2h-2zM1578,475h2v2h-2zM1586,475h2v2h-2zM1594,475h2v2h-2zM1602,475h2v2h-2zM1610,475h2v2h-2zM1618,475h2v2h-2zM1626,475h2v2h-2zM1634,475h2v2h-2zM1642,475h2v2h-2zM1650,475h2v2h-2zM1658,475h2v2h-2zM1666,475h2v2h-2zM1674,475h2v2h-2zM1682,475h2v2h-2zM1690,475h2v2h-2zM1698,475h2v2h-2zM1706,475h2v2h-2zM1714,475h2v2h-2zM1722,475h2v2h-2zM1730,475h2v2h-2zM1738,475h2v2h-2zM1746,475h2v2h-2zM1754,475h2v2h-2zM1762,475h2v2h-2zM1770,475h2v2h-2zM1778,475h2v2h-2zM1786,475h2v2h-2zM1794,475h2v2h-2zM1802,475h2v2h-2zM1810,475h2v2h-2zM1818,475h2v2h-2zM1826,475h2v2h-2zM1322,483h2v2h-2zM1338,483h2v2h-2zM1354,483h2v2h-2zM1370,483h2v2h-2zM1386,483h2v2h-2zM1402,483h2v2h-2zM1418,483h2v2h-2zM1434,483h2v2h-2zM1450,483h2v2h-2zM1466,483h2v2h-2zM1482,483h2v2h-2zM1498,483h2v2h-2zM1514,483h2v2h-2zM1530,483h2v2h-2zM1546,483h2v2h-2zM1562,483h2v2h-2zM1578,483h2v2h-2zM1594,483h2v2h-2zM1610,483h2v2h-2zM1626,483h2v2h-2zM1642,483h2v2h-2zM1658,483h2v2h-2zM1674,483h2v2h-2zM1690,483h2v2h-2zM1706,483h2v2h-2zM1722,483h2v2h-2zM1738,483h2v2h-2zM1754,483h2v2h-2zM1770,483h2v2h-2zM1786,483h2v2h-2zM1802,483h2v2h-2zM1818,483h2v2h-2zM1834,483h2v2h-2zM1826,477h2v2h-2zM1826,485h2v2h-2zM1826,493h2v2h-2zM1826,501h2v2h-2zM1826,509h2v2h-2zM1826,517h2v2h-2zM1826,525h2v2h-2zM1826,533h2v2h-2zM1826,541h2v2h-2zM1826,549h2v2h-2zM1826,557h2v2h-2zM1826,565h2v2h-2zM1826,573h2v2h-2zM1826,581h2v2h-2zM1826,589h2v2h-2zM1826,597h2v2h-2zM1826,605h2v2h-2zM1826,613h2v2h-2zM1826,621h2v2h-2zM1826,629h2v2h-2zM1826,637h2v2h-2zM1826,645h2v2h-2zM1826,653h2v2h-2zM1826,661h2v2h-2zM1826,669h2v2h-2zM1826,677h2v2h-2zM1826,685h2v2h-2zM1826,693h2v2h-2zM1826,701h2v2h-2zM1826,709h2v2h-2zM1826,717h2v2h-2zM1826,725h2v2h-2zM1826,733h2v2h-2zM1826,741h2v2h-2zM1826,749h2v2h-2zM1826,757h2v2h-2zM1826,765h2v2h-2zM1826,773h2v2h-2zM1826,781h2v2h-2zM1826,789h2v2h-2zM1826,797h2v2h-2zM1826,805h2v2h-2zM1826,813h2v2h-2zM1826,821h2v2h-2zM1826,829h2v2h-2zM1826,837h2v2h-2zM1826,845h2v2h-2zM1826,853h2v2h-2zM1826,861h2v2h-2zM1826,869h2v2h-2zM1826,877h2v2h-2zM1826,885h2v2h-2zM1826,893h2v2h-2zM1826,901h2v2h-2zM1826,909h2v2h-2zM1826,917h2v2h-2zM1826,925h2v2h-2zM1826,933h2v2h-2zM1826,941h2v2h-2zM1826,949h2v2h-2zM1826,957h2v2h-2zM1826,965h2v2h-2zM1826,973h2v2h-2zM1826,981h2v2h-2zM1826,989h2v2h-2zM1826,997h2v2h-2zM1826,1005h2v2h-2zM1826,1013h2v2h-2zM1826,1021h2v2h-2zM1826,1029h2v2h-2zM1826,1037h2v2h-2zM1826,1045h2v2h-2zM1826,1053h2v2h-2zM1826,1061h2v2h-2zM1826,1069h2v2h-2zM1826,1077h2v2h-2zM1826,1085h2v2h-2zM1826,1093h2v2h-2zM1826,1101h2v2h-2zM1826,1109h2v2h-2zM1826,1117h2v2h-2zM1826,1125h2v2h-2zM1826,1133h2v2h-2zM1826,1141h2v2h-2zM1826,1149h2v2h-2zM1826,1157h2v2h-2zM1826,1165h2v2h-2zM1826,1173h2v2h-2zM1826,1181h2v2h-2zM1826,1189h2v2h-2zM1826,1197h2v2h-2zM1826,1205h2v2h-2zM1826,1213h2v2h-2zM1826,1221h2v2h-2zM1826,1229h2v2h-2zM1826,1237h2v2h-2zM1826,1245h2v2h-2zM1826,1253h2v2h-2zM1826,1261h2v2h-2zM1826,1269h2v2h-2zM1826,1277h2v2h-2zM1826,1285h2v2h-2zM1826,1293h2v2h-2zM1826,1301h2v2h-2zM1826,1309h2v2h-2zM1826,1317h2v2h-2zM1826,1325h2v2h-2zM1826,1333h2v2h-2zM1826,1341h2v2h-2zM1826,1349h2v2h-2zM1826,1357h2v2h-2zM1826,1365h2v2h-2zM1826,1373h2v2h-2zM1826,1381h2v2h-2zM1826,1389h2v2h-2zM1826,1397h2v2h-2zM1826,1405h2v2h-2zM1826,1413h2v2h-2zM1826,1421h2v2h-2zM1826,1429h2v2h-2zM1826,1437h2v2h-2zM1826,1445h2v2h-2zM1826,1453h2v2h-2zM1826,1461h2v2h-2zM1826,1469h2v2h-2zM1826,1477h2v2h-2zM1826,1485h2v2h-2zM1826,1493h2v2h-2zM1826,1501h2v2h-2zM1826,1509h2v2h-2zM1826,1517h2v2h-2zM1826,1525h2v2h-2zM1826,1533h2v2h-2zM1826,1541h2v2h-2zM1826,1549h2v2h-2zM1826,1557h2v2h-2zM1826,1565h2v2h-2zM1826,1573h2v2h-2zM1830,489h2v2h-2zM1830,505h2v2h-2zM1830,521h2v2h-2zM1830,537h2v2h-2zM1830,553h2v2h-2zM1830,569h2v2h-2zM1830,585h2v2h-2zM1830,601h2v2h-2zM1830,617h2v2h-2zM1830,633h2v2h-2zM1830,649h2v2h-2zM1830,665h2v2h-2zM1830,681h2v2h-2zM1830,697h2v2h-2zM1830,713h2v2h-2zM1830,729h2v2h-2zM1830,745h2v2h-2zM1830,761h2v2h-2zM1830,777h2v2h-2zM1830,793h2v2h-2zM1830,809h2v2h-2zM1830,825h2v2h-2zM1830,841h2v2h-2zM1830,857h2v2h-2zM1830,873h2v2h-2zM1830,889h2v2h-2zM1830,905h2v2h-2zM1830,921h2v2h-2zM1830,937h2v2h-2zM1830,953h2v2h-2zM1830,969h2v2h-2zM1830,985h2v2h-2zM1830,1001h2v2h-2zM1830,1017h2v2h-2zM1830,1033h2v2h-2zM1830,1049h2v2h-2zM1830,1065h2v2h-2zM1830,1081h2v2h-2zM1830,1097h2v2h-2zM1830,1113h2v2h-2zM1830,1129h2v2h-2zM1830,1145h2v2h-2zM1830,1161h2v2h-2zM1830,1177h2v2h-2zM1830,1193h2v2h-2zM1830,1209h2v2h-2zM1830,1225h2v2h-2zM1830,1241h2v2h-2zM1830,1257h2v2h-2zM1830,1273h2v2h-2zM1830,1289h2v2h-2zM1830,1305h2v2h-2zM1830,1321h2v2h-2zM1830,1337h2v2h-2zM1830,1353h2v2h-2zM1830,1369h2v2h-2zM1830,1385h2v2h-2zM1830,1401h2v2h-2zM1830,1417h2v2h-2zM1830,1433h2v2h-2zM1830,1449h2v2h-2zM1830,1465h2v2h-2zM1830,1481h2v2h-2zM1830,1497h2v2h-2zM1830,1513h2v2h-2zM1830,1529h2v2h-2zM1830,1545h2v2h-2zM1830,1561h2v2h-2zM1830,1577h2v2h-2zM1834,477h2v2h-2zM1834,485h2v2h-2zM1834,493h2v2h-2zM1834,509h2v2h-2zM1834,517h2v2h-2zM1834,525h2v2h-2zM1834,541h2v2h-2zM1834,549h2v2h-2zM1834,557h2v2h-2zM1834,573h2v2h-2zM1834,581h2v2h-2zM1834,589h2v2h-2zM1834,605h2v2h-2zM1834,613h2v2h-2zM1834,621h2v2h-2zM1834,637h2v2h-2zM1834,645h2v2h-2zM1834,653h2v2h-2zM1834,669h2v2h-2zM1834,677h2v2h-2zM1834,685h2v2h-2zM1834,701h2v2h-2zM1834,709h2v2h-2zM1834,717h2v2h-2zM1834,733h2v2h-2zM1834,741h2v2h-2zM1834,749h2v2h-2zM1834,765h2v2h-2zM1834,773h2v2h-2zM1834,781h2v2h-2zM1834,797h2v2h-2zM1834,805h2v2h-2zM1834,813h2v2h-2zM1834,829h2v2h-2zM1834,837h2v2h-2zM1834,845h2v2h-2zM1834,861h2v2h-2zM1834,869h2v2h-2zM1834,877h2v2h-2zM1834,893h2v2h-2zM1834,901h2v2h-2zM1834,909h2v2h-2zM1834,925h2v2h-2zM1834,933h2v2h-2zM1834,941h2v2h-2zM1834,957h2v2h-2zM1834,965h2v2h-2zM1834,973h2v2h-2zM1834,989h2v2h-2zM1834,997h2v2h-2zM1834,1005h2v2h-2zM1834,1021h2v2h-2zM1834,1029h2v2h-2zM1834,1037h2v2h-2zM1834,1053h2v2h-2zM1834,1061h2v2h-2zM1834,1069h2v2h-2zM1834,1085h2v2h-2zM1834,1093h2v2h-2zM1834,1101h2v2h-2zM1834,1117h2v2h-2zM1834,1125h2v2h-2zM1834,1133h2v2h-2zM1834,1149h2v2h-2zM1834,1157h2v2h-2zM1834,1165h2v2h-2zM1834,1181h2v2h-2zM1834,1189h2v2h-2zM1834,1197h2v2h-2zM1834,1213h2v2h-2zM1834,1221h2v2h-2zM1834,1229h2v2h-2zM1834,1245h2v2h-2zM1834,1253h2v2h-2zM1834,1261h2v2h-2zM1834,1277h2v2h-2zM1834,1285h2v2h-2zM1834,1293h2v2h-2zM1834,1309h2v2h-2zM1834,1317h2v2h-2zM1834,1325h2v2h-2zM1834,1341h2v2h-2zM1834,1349h2v2h-2zM1834,1357h2v2h-2zM1834,1373h2v2h-2zM1834,1381h2v2h-2zM1834,1389h2v2h-2zM1834,1405h2v2h-2zM1834,1413h2v2h-2zM1834,1421h2v2h-2zM1834,1437h2v2h-2zM1834,1445h2v2h-2zM1834,1453h2v2h-2zM1834,1469h2v2h-2zM1834,1477h2v2h-2zM1834,1485h2v2h-2zM1834,1501h2v2h-2zM1834,1509h2v2h-2zM1834,1517h2v2h-2zM1834,1533h2v2h-2zM1834,1541h2v2h-2zM1834,1549h2v2h-2zM1834,1565h2v2h-2zM1834,1573h2v2h-2zM298,1577h2v2h-2zM298,1585h2v2h-2zM302,1577h2v2h-2zM302,1585h2v2h-2zM306,1577h2v2h-2zM306,1585h2v2h-2zM310,1577h2v2h-2zM310,1585h2v2h-2zM314,1577h2v2h-2zM314,1585h2v2h-2zM318,1577h2v2h-2zM318,1585h2v2h-2zM322,1577h2v2h-2zM322,1585h2v2h-2zM326,1577h2v2h-2zM326,1585h2v2h-2zM330,1577h2v2h-2zM330,1585h2v2h-2zM334,1577h2v2h-2zM334,1585h2v2h-2zM338,1577h2v2h-2zM338,1585h2v2h-2zM342,1577h2v2h-2zM342,1585h2v2h-2zM346,1577h2v2h-2zM346,1585h2v2h-2zM350,1577h2v2h-2zM350,1585h2v2h-2zM354,1577h2v2h-2zM354,1585h2v2h-2zM358,1577h2v2h-2zM358,1585h2v2h-2zM362,1577h2v2h-2zM362,1585h2v2h-2zM366,1577h2v2h-2zM366,1585h2v2h-2zM370,1577h2v2h-2zM370,1585h2v2h-2zM374,1577h2v2h-2zM374,1585h2v2h-2zM378,1577h2v2h-2zM378,1585h2v2h-2zM382,1577h2v2h-2zM382,1585h2v2h-2zM386,1577h2v2h-2zM386,1585h2v2h-2zM390,1577h2v2h-2zM390,1585h2v2h-2zM394,1577h2v2h-2zM394,1585h2v2h-2zM398,1577h2v2h-2zM398,1585h2v2h-2zM402,1577h2v2h-2zM402,1585h2v2h-2zM406,1577h2v2h-2zM406,1585h2v2h-2zM410,1577h2v2h-2zM410,1585h2v2h-2zM414,1577h2v2h-2zM414,1585h2v2h-2zM418,1577h2v2h-2zM418,1585h2v2h-2zM422,1577h2v2h-2zM422,1585h2v2h-2zM426,1577h2v2h-2zM426,1585h2v2h-2zM430,1577h2v2h-2zM430,1585h2v2h-2zM434,1577h2v2h-2zM434,1585h2v2h-2zM438,1577h2v2h-2zM438,1585h2v2h-2zM442,1577h2v2h-2zM442,1585h2v2h-2zM446,1577h2v2h-2zM446,1585h2v2h-2zM450,1577h2v2h-2zM450,1585h2v2h-2zM454,1577h2v2h-2zM454,1585h2v2h-2zM458,1577h2v2h-2zM458,1585h2v2h-2zM462,1577h2v2h-2zM462,1585h2v2h-2zM466,1577h2v2h-2zM466,1585h2v2h-2zM470,1577h2v2h-2zM470,1585h2v2h-2zM474,1577h2v2h-2zM474,1585h2v2h-2zM478,1577h2v2h-2zM478,1585h2v2h-2zM482,1577h2v2h-2zM482,1585h2v2h-2zM486,1577h2v2h-2zM486,1585h2v2h-2zM490,1577h2v2h-2zM490,1585h2v2h-2zM494,1577h2v2h-2zM494,1585h2v2h-2zM498,1577h2v2h-2zM498,1585h2v2h-2zM502,1577h2v2h-2zM502,1585h2v2h-2zM506,1577h2v2h-2zM506,1585h2v2h-2zM510,1577h2v2h-2zM510,1585h2v2h-2zM514,1577h2v2h-2zM514,1585h2v2h-2zM518,1577h2v2h-2zM518,1585h2v2h-2zM522,1577h2v2h-2zM522,1585h2v2h-2zM526,1577h2v2h-2zM526,1585h2v2h-2zM530,1577h2v2h-2zM530,1585h2v2h-2zM534,1577h2v2h-2zM534,1585h2v2h-2zM538,1577h2v2h-2zM538,1585h2v2h-2zM542,1577h2v2h-2zM542,1585h2v2h-2zM546,1577h2v2h-2zM546,1585h2v2h-2zM550,1577h2v2h-2zM550,1585h2v2h-2zM554,1577h2v2h-2zM554,1585h2v2h-2zM558,1577h2v2h-2zM558,1585h2v2h-2zM562,1577h2v2h-2zM562,1585h2v2h-2zM566,1577h2v2h-2zM566,1585h2v2h-2zM570,1577h2v2h-2zM570,1585h2v2h-2zM574,1577h2v2h-2zM574,1585h2v2h-2zM578,1577h2v2h-2zM578,1585h2v2h-2zM582,1577h2v2h-2zM582,1585h2v2h-2zM586,1577h2v2h-2zM586,1585h2v2h-2zM590,1577h2v2h-2zM590,1585h2v2h-2zM594,1577h2v2h-2zM594,1585h2v2h-2zM598,1577h2v2h-2zM598,1585h2v2h-2zM602,1577h2v2h-2zM602,1585h2v2h-2zM606,1577h2v2h-2zM606,1585h2v2h-2zM610,1577h2v2h-2zM610,1585h2v2h-2zM614,1577h2v2h-2zM614,1585h2v2h-2zM618,1577h2v2h-2zM618,1585h2v2h-2zM622,1577h2v2h-2zM622,1585h2v2h-2zM626,1577h2v2h-2zM626,1585h2v2h-2zM630,1577h2v2h-2zM630,1585h2v2h-2zM634,1577h2v2h-2zM634,1585h2v2h-2zM638,1577h2v2h-2zM638,1585h2v2h-2zM642,1577h2v2h-2zM642,1585h2v2h-2zM646,1577h2v2h-2zM646,1585h2v2h-2zM650,1577h2v2h-2zM650,1585h2v2h-2zM654,1577h2v2h-2zM654,1585h2v2h-2zM658,1577h2v2h-2zM658,1585h2v2h-2zM662,1577h2v2h-2zM662,1585h2v2h-2zM666,1577h2v2h-2zM666,1585h2v2h-2zM670,1577h2v2h-2zM670,1585h2v2h-2zM674,1577h2v2h-2zM674,1585h2v2h-2zM678,1577h2v2h-2zM678,1585h2v2h-2zM682,1577h2v2h-2zM682,1585h2v2h-2zM686,1577h2v2h-2zM686,1585h2v2h-2zM690,1577h2v2h-2zM690,1585h2v2h-2zM694,1577h2v2h-2zM694,1585h2v2h-2zM698,1577h2v2h-2zM698,1585h2v2h-2zM702,1577h2v2h-2zM702,1585h2v2h-2zM706,1577h2v2h-2zM706,1585h2v2h-2zM710,1577h2v2h-2zM710,1585h2v2h-2zM714,1577h2v2h-2zM714,1585h2v2h-2zM718,1577h2v2h-2zM718,1585h2v2h-2zM722,1577h2v2h-2zM722,1585h2v2h-2zM726,1577h2v2h-2zM726,1585h2v2h-2zM730,1577h2v2h-2zM730,1585h2v2h-2zM734,1577h2v2h-2zM734,1585h2v2h-2zM738,1577h2v2h-2zM738,1585h2v2h-2zM742,1577h2v2h-2zM742,1585h2v2h-2zM746,1577h2v2h-2zM746,1585h2v2h-2zM750,1577h2v2h-2zM750,1585h2v2h-2zM754,1577h2v2h-2zM754,1585h2v2h-2zM758,1577h2v2h-2zM758,1585h2v2h-2zM762,1577h2v2h-2zM762,1585h2v2h-2zM766,1577h2v2h-2zM766,1585h2v2h-2zM770,1577h2v2h-2zM770,1585h2v2h-2zM774,1577h2v2h-2zM774,1585h2v2h-2zM778,1577h2v2h-2zM778,1585h2v2h-2zM782,1577h2v2h-2zM782,1585h2v2h-2zM786,1577h2v2h-2zM786,1585h2v2h-2zM790,1577h2v2h-2zM790,1585h2v2h-2zM794,1577h2v2h-2zM794,1585h2v2h-2zM798,1577h2v2h-2zM798,1585h2v2h-2zM802,1577h2v2h-2zM802,1585h2v2h-2zM806,1577h2v2h-2zM806,1585h2v2h-2zM810,1577h2v2h-2zM810,1585h2v2h-2zM814,1577h2v2h-2zM814,1585h2v2h-2zM818,1577h2v2h-2zM818,1585h2v2h-2zM822,1577h2v2h-2zM822,1585h2v2h-2zM826,1577h2v2h-2zM826,1585h2v2h-2zM830,1577h2v2h-2zM830,1585h2v2h-2zM834,1577h2v2h-2zM834,1585h2v2h-2zM838,1577h2v2h-2zM838,1585h2v2h-2zM842,1577h2v2h-2zM842,1585h2v2h-2zM846,1577h2v2h-2zM846,1585h2v2h-2zM850,1577h2v2h-2zM850,1585h2v2h-2zM854,1577h2v2h-2zM854,1585h2v2h-2zM858,1577h2v2h-2zM858,1585h2v2h-2zM862,1577h2v2h-2zM862,1585h2v2h-2zM866,1577h2v2h-2zM866,1585h2v2h-2zM870,1577h2v2h-2zM870,1585h2v2h-2zM874,1577h2v2h-2zM874,1585h2v2h-2zM878,1577h2v2h-2zM878,1585h2v2h-2zM882,1577h2v2h-2zM882,1585h2v2h-2zM886,1577h2v2h-2zM886,1585h2v2h-2zM890,1577h2v2h-2zM890,1585h2v2h-2zM894,1577h2v2h-2zM894,1585h2v2h-2zM898,1577h2v2h-2zM898,1585h2v2h-2zM902,1577h2v2h-2zM902,1585h2v2h-2zM906,1577h2v2h-2zM906,1585h2v2h-2zM910,1577h2v2h-2zM910,1585h2v2h-2zM914,1577h2v2h-2zM914,1585h2v2h-2zM918,1577h2v2h-2zM918,1585h2v2h-2zM922,1577h2v2h-2zM922,1585h2v2h-2zM926,1577h2v2h-2zM926,1585h2v2h-2zM930,1577h2v2h-2zM930,1585h2v2h-2zM934,1577h2v2h-2zM934,1585h2v2h-2zM938,1577h2v2h-2zM938,1585h2v2h-2zM942,1577h2v2h-2zM942,1585h2v2h-2zM946,1577h2v2h-2zM946,1585h2v2h-2zM950,1577h2v2h-2zM950,1585h2v2h-2zM954,1577h2v2h-2zM954,1585h2v2h-2zM958,1577h2v2h-2zM958,1585h2v2h-2zM962,1577h2v2h-2zM962,1585h2v2h-2zM966,1577h2v2h-2zM966,1585h2v2h-2zM970,1577h2v2h-2zM970,1585h2v2h-2zM974,1577h2v2h-2zM974,1585h2v2h-2zM978,1577h2v2h-2zM978,1585h2v2h-2zM982,1577h2v2h-2zM982,1585h2v2h-2zM986,1577h2v2h-2zM986,1585h2v2h-2zM990,1577h2v2h-2zM990,1585h2v2h-2zM994,1577h2v2h-2zM994,1585h2v2h-2zM998,1577h2v2h-2zM998,1585h2v2h-2zM1002,1577h2v2h-2zM1002,1585h2v2h-2zM1006,1577h2v2h-2zM1006,1585h2v2h-2zM1010,1577h2v2h-2zM1010,1585h2v2h-2zM1014,1577h2v2h-2zM1014,1585h2v2h-2zM1018,1577h2v2h-2zM1018,1585h2v2h-2zM1022,1577h2v2h-2zM1022,1585h2v2h-2zM1026,1577h2v2h-2zM1026,1585h2v2h-2zM1030,1577h2v2h-2zM1030,1585h2v2h-2zM1034,1577h2v2h-2zM1034,1585h2v2h-2zM1038,1577h2v2h-2zM1038,1585h2v2h-2zM1042,1577h2v2h-2zM1042,1585h2v2h-2zM1046,1577h2v2h-2zM1046,1585h2v2h-2zM1050,1577h2v2h-2zM1050,1585h2v2h-2zM1054,1577h2v2h-2zM1054,1585h2v2h-2zM1058,1577h2v2h-2zM1058,1585h2v2h-2zM1062,1577h2v2h-2zM1062,1585h2v2h-2zM1066,1577h2v2h-2zM1066,1585h2v2h-2zM1070,1577h2v2h-2zM1070,1585h2v2h-2zM1074,1577h2v2h-2zM1074,1585h2v2h-2zM1078,1577h2v2h-2zM1078,1585h2v2h-2zM1082,1577h2v2h-2zM1082,1585h2v2h-2zM1086,1577h2v2h-2zM1086,1585h2v2h-2zM1090,1577h2v2h-2zM1090,1585h2v2h-2zM1094,1577h2v2h-2zM1094,1585h2v2h-2zM1098,1577h2v2h-2zM1098,1585h2v2h-2zM1102,1577h2v2h-2zM1102,1585h2v2h-2zM1106,1577h2v2h-2zM1106,1585h2v2h-2zM1110,1577h2v2h-2zM1110,1585h2v2h-2zM1114,1577h2v2h-2zM1114,1585h2v2h-2zM1118,1577h2v2h-2zM1118,1585h2v2h-2zM1122,1577h2v2h-2zM1122,1585h2v2h-2zM1126,1577h2v2h-2zM1126,1585h2v2h-2zM1130,1577h2v2h-2zM1130,1585h2v2h-2zM1134,1577h2v2h-2zM1134,1585h2v2h-2zM1138,1577h2v2h-2zM1138,1585h2v2h-2zM1142,1577h2v2h-2zM1142,1585h2v2h-2zM1146,1577h2v2h-2zM1146,1585h2v2h-2zM1150,1577h2v2h-2zM1150,1585h2v2h-2zM1154,1577h2v2h-2zM1154,1585h2v2h-2zM1158,1577h2v2h-2zM1158,1585h2v2h-2zM1162,1577h2v2h-2zM1162,1585h2v2h-2zM1166,1577h2v2h-2zM1166,1585h2v2h-2zM1170,1577h2v2h-2zM1170,1585h2v2h-2zM1174,1577h2v2h-2zM1174,1585h2v2h-2zM1178,1577h2v2h-2zM1178,1585h2v2h-2zM1182,1577h2v2h-2zM1182,1585h2v2h-2zM1186,1577h2v2h-2zM1186,1585h2v2h-2zM1190,1577h2v2h-2zM1190,1585h2v2h-2zM1194,1577h2v2h-2zM1194,1585h2v2h-2zM1198,1577h2v2h-2zM1198,1585h2v2h-2zM1202,1577h2v2h-2zM1202,1585h2v2h-2zM1206,1577h2v2h-2zM1206,1585h2v2h-2zM1210,1577h2v2h-2zM1210,1585h2v2h-2zM1214,1577h2v2h-2zM1214,1585h2v2h-2zM1218,1577h2v2h-2zM1218,1585h2v2h-2zM1222,1577h2v2h-2zM1222,1585h2v2h-2zM1226,1577h2v2h-2zM1226,1585h2v2h-2zM1230,1577h2v2h-2zM1230,1585h2v2h-2zM1234,1577h2v2h-2zM1234,1585h2v2h-2zM1238,1577h2v2h-2zM1238,1585h2v2h-2zM1242,1577h2v2h-2zM1242,1585h2v2h-2zM1246,1577h2v2h-2zM1246,1585h2v2h-2zM1250,1577h2v2h-2zM1250,1585h2v2h-2zM1254,1577h2v2h-2zM1254,1585h2v2h-2zM1258,1577h2v2h-2zM1258,1585h2v2h-2zM1262,1577h2v2h-2zM1262,1585h2v2h-2zM1266,1577h2v2h-2zM1266,1585h2v2h-2zM1270,1577h2v2h-2zM1270,1585h2v2h-2zM1274,1577h2v2h-2zM1274,1585h2v2h-2zM1278,1577h2v2h-2zM1278,1585h2v2h-2zM1282,1577h2v2h-2zM1282,1585h2v2h-2zM1286,1577h2v2h-2zM1286,1585h2v2h-2zM1290,1577h2v2h-2zM1290,1585h2v2h-2zM1294,1577h2v2h-2zM1294,1585h2v2h-2zM1298,1577h2v2h-2zM1298,1585h2v2h-2zM1302,1577h2v2h-2zM1302,1585h2v2h-2zM1306,1577h2v2h-2zM1306,1585h2v2h-2zM1310,1577h2v2h-2zM1310,1585h2v2h-2zM1314,1577h2v2h-2zM1314,1585h2v2h-2zM1318,1577h2v2h-2zM1318,1585h2v2h-2zM1322,1577h2v2h-2zM1322,1585h2v2h-2zM1326,1577h2v2h-2zM1326,1585h2v2h-2zM1330,1577h2v2h-2zM1330,1585h2v2h-2zM1334,1577h2v2h-2zM1334,1585h2v2h-2zM1338,1577h2v2h-2zM1338,1585h2v2h-2zM1342,1577h2v2h-2zM1342,1585h2v2h-2zM1346,1577h2v2h-2zM1346,1585h2v2h-2zM1350,1577h2v2h-2zM1350,1585h2v2h-2zM1354,1577h2v2h-2zM1354,1585h2v2h-2zM1358,1577h2v2h-2zM1358,1585h2v2h-2zM1362,1577h2v2h-2zM1362,1585h2v2h-2zM1366,1577h2v2h-2zM1366,1585h2v2h-2zM1370,1577h2v2h-2zM1370,1585h2v2h-2zM1374,1577h2v2h-2zM1374,1585h2v2h-2zM1378,1577h2v2h-2zM1378,1585h2v2h-2zM1382,1577h2v2h-2zM1382,1585h2v2h-2zM1386,1577h2v2h-2zM1386,1585h2v2h-2zM1390,1577h2v2h-2zM1390,1585h2v2h-2zM1394,1577h2v2h-2zM1394,1585h2v2h-2zM1398,1577h2v2h-2zM1398,1585h2v2h-2zM1402,1577h2v2h-2zM1402,1585h2v2h-2zM1406,1577h2v2h-2zM1406,1585h2v2h-2zM1410,1577h2v2h-2zM1410,1585h2v2h-2zM1414,1577h2v2h-2zM1414,1585h2v2h-2zM1418,1577h2v2h-2zM1418,1585h2v2h-2zM1422,1577h2v2h-2zM1422,1585h2v2h-2zM1426,1577h2v2h-2zM1426,1585h2v2h-2zM1430,1577h2v2h-2zM1430,1585h2v2h-2zM1434,1577h2v2h-2zM1434,1585h2v2h-2zM1438,1577h2v2h-2zM1438,1585h2v2h-2zM1442,1577h2v2h-2zM1442,1585h2v2h-2zM1446,1577h2v2h-2zM1446,1585h2v2h-2zM1450,1577h2v2h-2zM1450,1585h2v2h-2zM1454,1577h2v2h-2zM1454,1585h2v2h-2zM1458,1577h2v2h-2zM1458,1585h2v2h-2zM1462,1577h2v2h-2zM1462,1585h2v2h-2zM1466,1577h2v2h-2zM1466,1585h2v2h-2zM1470,1577h2v2h-2zM1470,1585h2v2h-2zM1474,1577h2v2h-2zM1474,1585h2v2h-2zM1478,1577h2v2h-2zM1478,1585h2v2h-2zM1482,1577h2v2h-2zM1482,1585h2v2h-2zM1486,1577h2v2h-2zM1486,1585h2v2h-2zM1490,1577h2v2h-2zM1490,1585h2v2h-2zM1494,1577h2v2h-2zM1494,1585h2v2h-2zM1498,1577h2v2h-2zM1498,1585h2v2h-2zM1502,1577h2v2h-2zM1502,1585h2v2h-2zM1506,1577h2v2h-2zM1506,1585h2v2h-2zM1510,1577h2v2h-2zM1510,1585h2v2h-2zM1514,1577h2v2h-2zM1514,1585h2v2h-2zM1518,1577h2v2h-2zM1518,1585h2v2h-2zM1522,1577h2v2h-2zM1522,1585h2v2h-2zM1526,1577h2v2h-2zM1526,1585h2v2h-2zM1530,1577h2v2h-2zM1530,1585h2v2h-2zM1534,1577h2v2h-2zM1534,1585h2v2h-2zM1538,1577h2v2h-2zM1538,1585h2v2h-2zM1542,1577h2v2h-2zM1542,1585h2v2h-2zM1546,1577h2v2h-2zM1546,1585h2v2h-2zM1550,1577h2v2h-2zM1550,1585h2v2h-2zM1554,1577h2v2h-2zM1554,1585h2v2h-2zM1558,1577h2v2h-2zM1558,1585h2v2h-2zM1562,1577h2v2h-2zM1562,1585h2v2h-2zM1566,1577h2v2h-2zM1566,1585h2v2h-2zM1570,1577h2v2h-2zM1570,1585h2v2h-2zM1574,1577h2v2h-2zM1574,1585h2v2h-2zM1578,1577h2v2h-2zM1578,1585h2v2h-2zM1582,1577h2v2h-2zM1582,1585h2v2h-2zM1586,1577h2v2h-2zM1586,1585h2v2h-2zM1590,1577h2v2h-2zM1590,1585h2v2h-2zM1594,1577h2v2h-2zM1594,1585h2v2h-2zM1598,1577h2v2h-2zM1598,1585h2v2h-2zM1602,1577h2v2h-2zM1602,1585h2v2h-2zM1606,1577h2v2h-2zM1606,1585h2v2h-2zM1610,1577h2v2h-2zM1610,1585h2v2h-2zM1614,1577h2v2h-2zM1614,1585h2v2h-2zM1618,1577h2v2h-2zM1618,1585h2v2h-2zM1622,1577h2v2h-2zM1622,1585h2v2h-2zM1626,1577h2v2h-2zM1626,1585h2v2h-2zM1630,1577h2v2h-2zM1630,1585h2v2h-2zM1634,1577h2v2h-2zM1634,1585h2v2h-2zM1638,1577h2v2h-2zM1638,1585h2v2h-2zM1642,1577h2v2h-2zM1642,1585h2v2h-2zM1646,1577h2v2h-2zM1646,1585h2v2h-2zM1650,1577h2v2h-2zM1650,1585h2v2h-2zM1654,1577h2v2h-2zM1654,1585h2v2h-2zM1658,1577h2v2h-2zM1658,1585h2v2h-2zM1662,1577h2v2h-2zM1662,1585h2v2h-2zM1666,1577h2v2h-2zM1666,1585h2v2h-2zM1670,1577h2v2h-2zM1670,1585h2v2h-2zM1674,1577h2v2h-2zM1674,1585h2v2h-2zM1678,1577h2v2h-2zM1678,1585h2v2h-2zM1682,1577h2v2h-2zM1682,1585h2v2h-2zM1686,1577h2v2h-2zM1686,1585h2v2h-2zM1690,1577h2v2h-2zM1690,1585h2v2h-2zM1694,1577h2v2h-2zM1694,1585h2v2h-2zM1698,1577h2v2h-2zM1698,1585h2v2h-2zM1702,1577h2v2h-2zM1702,1585h2v2h-2zM1706,1577h2v2h-2zM1706,1585h2v2h-2zM1710,1577h2v2h-2zM1710,1585h2v2h-2zM1714,1577h2v2h-2zM1714,1585h2v2h-2zM1718,1577h2v2h-2zM1718,1585h2v2h-2zM1722,1577h2v2h-2zM1722,1585h2v2h-2zM1726,1577h2v2h-2zM1726,1585h2v2h-2zM1730,1577h2v2h-2zM1730,1585h2v2h-2zM1734,1577h2v2h-2zM1734,1585h2v2h-2zM1738,1577h2v2h-2zM1738,1585h2v2h-2zM1742,1577h2v2h-2zM1742,1585h2v2h-2zM1746,1577h2v2h-2zM1746,1585h2v2h-2zM1750,1577h2v2h-2zM1750,1585h2v2h-2zM1754,1577h2v2h-2zM1754,1585h2v2h-2zM1758,1577h2v2h-2zM1758,1585h2v2h-2zM1762,1577h2v2h-2zM1762,1585h2v2h-2zM1766,1577h2v2h-2zM1766,1585h2v2h-2zM1770,1577h2v2h-2zM1770,1585h2v2h-2zM1774,1577h2v2h-2zM1774,1585h2v2h-2zM1778,1577h2v2h-2zM1778,1585h2v2h-2zM1782,1577h2v2h-2zM1782,1585h2v2h-2zM1786,1577h2v2h-2zM1786,1585h2v2h-2zM1790,1577h2v2h-2zM1790,1585h2v2h-2zM1794,1577h2v2h-2zM1794,1585h2v2h-2zM1798,1577h2v2h-2zM1798,1585h2v2h-2zM1802,1577h2v2h-2zM1802,1585h2v2h-2zM1806,1577h2v2h-2zM1806,1585h2v2h-2zM1810,1577h2v2h-2zM1810,1585h2v2h-2zM1814,1577h2v2h-2zM1814,1585h2v2h-2zM1818,1577h2v2h-2zM1818,1585h2v2h-2zM1822,1577h2v2h-2zM1822,1585h2v2h-2zM1826,1577h2v2h-2zM1826,1585h2v2h-2zM302,1581h2v2h-2zM302,1589h2v2h-2zM310,1581h2v2h-2zM310,1589h2v2h-2zM318,1581h2v2h-2zM318,1589h2v2h-2zM326,1581h2v2h-2zM326,1589h2v2h-2zM334,1581h2v2h-2zM334,1589h2v2h-2zM342,1581h2v2h-2zM342,1589h2v2h-2zM350,1581h2v2h-2zM350,1589h2v2h-2zM358,1581h2v2h-2zM358,1589h2v2h-2zM366,1581h2v2h-2zM366,1589h2v2h-2zM374,1581h2v2h-2zM374,1589h2v2h-2zM382,1581h2v2h-2zM382,1589h2v2h-2zM390,1581h2v2h-2zM390,1589h2v2h-2zM398,1581h2v2h-2zM398,1589h2v2h-2zM406,1581h2v2h-2zM406,1589h2v2h-2zM414,1581h2v2h-2zM414,1589h2v2h-2zM422,1581h2v2h-2zM422,1589h2v2h-2zM430,1581h2v2h-2zM430,1589h2v2h-2zM438,1581h2v2h-2zM438,1589h2v2h-2zM446,1581h2v2h-2zM446,1589h2v2h-2zM454,1581h2v2h-2zM454,1589h2v2h-2zM462,1581h2v2h-2zM462,1589h2v2h-2zM470,1581h2v2h-2zM470,1589h2v2h-2zM478,1581h2v2h-2zM478,1589h2v2h-2zM486,1581h2v2h-2zM486,1589h2v2h-2zM494,1581h2v2h-2zM494,1589h2v2h-2zM502,1581h2v2h-2zM502,1589h2v2h-2zM510,1581h2v2h-2zM510,1589h2v2h-2zM518,1581h2v2h-2zM518,1589h2v2h-2zM526,1581h2v2h-2zM526,1589h2v2h-2zM534,1581h2v2h-2zM534,1589h2v2h-2zM542,1581h2v2h-2zM542,1589h2v2h-2zM550,1581h2v2h-2zM550,1589h2v2h-2zM558,1581h2v2h-2zM558,1589h2v2h-2zM566,1581h2v2h-2zM566,1589h2v2h-2zM574,1581h2v2h-2zM574,1589h2v2h-2zM582,1581h2v2h-2zM582,1589h2v2h-2zM590,1581h2v2h-2zM590,1589h2v2h-2zM598,1581h2v2h-2zM598,1589h2v2h-2zM606,1581h2v2h-2zM606,1589h2v2h-2zM614,1581h2v2h-2zM614,1589h2v2h-2zM622,1581h2v2h-2zM622,1589h2v2h-2zM630,1581h2v2h-2zM630,1589h2v2h-2zM638,1581h2v2h-2zM638,1589h2v2h-2zM646,1581h2v2h-2zM646,1589h2v2h-2zM654,1581h2v2h-2zM654,1589h2v2h-2zM662,1581h2v2h-2zM662,1589h2v2h-2zM670,1581h2v2h-2zM670,1589h2v2h-2zM678,1581h2v2h-2zM678,1589h2v2h-2zM686,1581h2v2h-2zM686,1589h2v2h-2zM694,1581h2v2h-2zM694,1589h2v2h-2zM702,1581h2v2h-2zM702,1589h2v2h-2zM710,1581h2v2h-2zM710,1589h2v2h-2zM718,1581h2v2h-2zM718,1589h2v2h-2zM726,1581h2v2h-2zM726,1589h2v2h-2zM734,1581h2v2h-2zM734,1589h2v2h-2zM742,1581h2v2h-2zM742,1589h2v2h-2zM750,1581h2v2h-2zM750,1589h2v2h-2zM758,1581h2v2h-2zM758,1589h2v2h-2zM766,1581h2v2h-2zM766,1589h2v2h-2zM774,1581h2v2h-2zM774,1589h2v2h-2zM782,1581h2v2h-2zM782,1589h2v2h-2zM790,1581h2v2h-2zM790,1589h2v2h-2zM798,1581h2v2h-2zM798,1589h2v2h-2zM806,1581h2v2h-2zM806,1589h2v2h-2zM814,1581h2v2h-2zM814,1589h2v2h-2zM822,1581h2v2h-2zM822,1589h2v2h-2zM830,1581h2v2h-2zM830,1589h2v2h-2zM838,1581h2v2h-2zM838,1589h2v2h-2zM846,1581h2v2h-2zM846,1589h2v2h-2zM854,1581h2v2h-2zM854,1589h2v2h-2zM862,1581h2v2h-2zM862,1589h2v2h-2zM870,1581h2v2h-2zM870,1589h2v2h-2zM878,1581h2v2h-2zM878,1589h2v2h-2zM886,1581h2v2h-2zM886,1589h2v2h-2zM894,1581h2v2h-2zM894,1589h2v2h-2zM902,1581h2v2h-2zM902,1589h2v2h-2zM910,1581h2v2h-2zM910,1589h2v2h-2zM918,1581h2v2h-2zM918,1589h2v2h-2zM926,1581h2v2h-2zM926,1589h2v2h-2zM934,1581h2v2h-2zM934,1589h2v2h-2zM942,1581h2v2h-2zM942,1589h2v2h-2zM950,1581h2v2h-2zM950,1589h2v2h-2zM958,1581h2v2h-2zM958,1589h2v2h-2zM966,1581h2v2h-2zM966,1589h2v2h-2zM974,1581h2v2h-2zM974,1589h2v2h-2zM982,1581h2v2h-2zM982,1589h2v2h-2zM990,1581h2v2h-2zM990,1589h2v2h-2zM998,1581h2v2h-2zM998,1589h2v2h-2zM1006,1581h2v2h-2zM1006,1589h2v2h-2zM1014,1581h2v2h-2zM1014,1589h2v2h-2zM1022,1581h2v2h-2zM1022,1589h2v2h-2zM1030,1581h2v2h-2zM1030,1589h2v2h-2zM1038,1581h2v2h-2zM1038,1589h2v2h-2zM1046,1581h2v2h-2zM1046,1589h2v2h-2zM1054,1581h2v2h-2zM1054,1589h2v2h-2zM1062,1581h2v2h-2zM1062,1589h2v2h-2zM1070,1581h2v2h-2zM1070,1589h2v2h-2zM1078,1581h2v2h-2zM1078,1589h2v2h-2zM1086,1581h2v2h-2zM1086,1589h2v2h-2zM1094,1581h2v2h-2zM1094,1589h2v2h-2zM1102,1581h2v2h-2zM1102,1589h2v2h-2zM1110,1581h2v2h-2zM1110,1589h2v2h-2zM1118,1581h2v2h-2zM1118,1589h2v2h-2zM1126,1581h2v2h-2zM1126,1589h2v2h-2zM1134,1581h2v2h-2zM1134,1589h2v2h-2zM1142,1581h2v2h-2zM1142,1589h2v2h-2zM1150,1581h2v2h-2zM1150,1589h2v2h-2zM1158,1581h2v2h-2zM1158,1589h2v2h-2zM1166,1581h2v2h-2zM1166,1589h2v2h-2zM1174,1581h2v2h-2zM1174,1589h2v2h-2zM1182,1581h2v2h-2zM1182,1589h2v2h-2zM1190,1581h2v2h-2zM1190,1589h2v2h-2zM1198,1581h2v2h-2zM1198,1589h2v2h-2zM1206,1581h2v2h-2zM1206,1589h2v2h-2zM1214,1581h2v2h-2zM1214,1589h2v2h-2zM1222,1581h2v2h-2zM1222,1589h2v2h-2zM1230,1581h2v2h-2zM1230,1589h2v2h-2zM1238,1581h2v2h-2zM1238,1589h2v2h-2zM1246,1581h2v2h-2zM1246,1589h2v2h-2zM1254,1581h2v2h-2zM1254,1589h2v2h-2zM1262,1581h2v2h-2zM1262,1589h2v2h-2zM1270,1581h2v2h-2zM1270,1589h2v2h-2zM1278,1581h2v2h-2zM1278,1589h2v2h-2zM1286,1581h2v2h-2zM1286,1589h2v2h-2zM1294,1581h2v2h-2zM1294,1589h2v2h-2zM1302,1581h2v2h-2zM1302,1589h2v2h-2zM1310,1581h2v2h-2zM1310,1589h2v2h-2zM1318,1581h2v2h-2zM1318,1589h2v2h-2zM1326,1581h2v2h-2zM1326,1589h2v2h-2zM1334,1581h2v2h-2zM1334,1589h2v2h-2zM1342,1581h2v2h-2zM1342,1589h2v2h-2zM1350,1581h2v2h-2zM1350,1589h2v2h-2zM1358,1581h2v2h-2zM1358,1589h2v2h-2zM1366,1581h2v2h-2zM1366,1589h2v2h-2zM1374,1581h2v2h-2zM1374,1589h2v2h-2zM1382,1581h2v2h-2zM1382,1589h2v2h-2zM1390,1581h2v2h-2zM1390,1589h2v2h-2zM1398,1581h2v2h-2zM1398,1589h2v2h-2zM1406,1581h2v2h-2zM1406,1589h2v2h-2zM1414,1581h2v2h-2zM1414,1589h2v2h-2zM1422,1581h2v2h-2zM1422,1589h2v2h-2zM1430,1581h2v2h-2zM1430,1589h2v2h-2zM1438,1581h2v2h-2zM1438,1589h2v2h-2zM1446,1581h2v2h-2zM1446,1589h2v2h-2zM1454,1581h2v2h-2zM1454,1589h2v2h-2zM1462,1581h2v2h-2zM1462,1589h2v2h-2zM1470,1581h2v2h-2zM1470,1589h2v2h-2zM1478,1581h2v2h-2zM1478,1589h2v2h-2zM1486,1581h2v2h-2zM1486,1589h2v2h-2zM1494,1581h2v2h-2zM1494,1589h2v2h-2zM1502,1581h2v2h-2zM1502,1589h2v2h-2zM1510,1581h2v2h-2zM1510,1589h2v2h-2zM1518,1581h2v2h-2zM1518,1589h2v2h-2zM1526,1581h2v2h-2zM1526,1589h2v2h-2zM1534,1581h2v2h-2zM1534,1589h2v2h-2zM1542,1581h2v2h-2zM1542,1589h2v2h-2zM1550,1581h2v2h-2zM1550,1589h2v2h-2zM1558,1581h2v2h-2zM1558,1589h2v2h-2zM1566,1581h2v2h-2zM1566,1589h2v2h-2zM1574,1581h2v2h-2zM1574,1589h2v2h-2zM1582,1581h2v2h-2zM1582,1589h2v2h-2zM1590,1581h2v2h-2zM1590,1589h2v2h-2zM1598,1581h2v2h-2zM1598,1589h2v2h-2zM1606,1581h2v2h-2zM1606,1589h2v2h-2zM1614,1581h2v2h-2zM1614,1589h2v2h-2zM1622,1581h2v2h-2zM1622,1589h2v2h-2zM1630,1581h2v2h-2zM1630,1589h2v2h-2zM1638,1581h2v2h-2zM1638,1589h2v2h-2zM1646,1581h2v2h-2zM1646,1589h2v2h-2zM1654,1581h2v2h-2zM1654,1589h2v2h-2zM1662,1581h2v2h-2zM1662,1589h2v2h-2zM1670,1581h2v2h-2zM1670,1589h2v2h-2zM1678,1581h2v2h-2zM1678,1589h2v2h-2zM1686,1581h2v2h-2zM1686,1589h2v2h-2zM1694,1581h2v2h-2zM1694,1589h2v2h-2zM1702,1581h2v2h-2zM1702,1589h2v2h-2zM1710,1581h2v2h-2zM1710,1589h2v2h-2zM1718,1581h2v2h-2zM1718,1589h2v2h-2zM1726,1581h2v2h-2zM1726,1589h2v2h-2zM1734,1581h2v2h-2zM1734,1589h2v2h-2zM1742,1581h2v2h-2zM1742,1589h2v2h-2zM1750,1581h2v2h-2zM1750,1589h2v2h-2zM1758,1581h2v2h-2zM1758,1589h2v2h-2zM1766,1581h2v2h-2zM1766,1589h2v2h-2zM1774,1581h2v2h-2zM1774,1589h2v2h-2zM1782,1581h2v2h-2zM1782,1589h2v2h-2zM1790,1581h2v2h-2zM1790,1589h2v2h-2zM1798,1581h2v2h-2zM1798,1589h2v2h-2zM1806,1581h2v2h-2zM1806,1589h2v2h-2zM1814,1581h2v2h-2zM1814,1589h2v2h-2zM1822,1581h2v2h-2zM1822,1589h2v2h-2zM298,1593h2v2h-2zM306,1593h2v2h-2zM314,1593h2v2h-2zM322,1593h2v2h-2zM330,1593h2v2h-2zM338,1593h2v2h-2zM346,1593h2v2h-2zM354,1593h2v2h-2zM362,1593h2v2h-2zM370,1593h2v2h-2zM378,1593h2v2h-2zM386,1593h2v2h-2zM394,1593h2v2h-2zM402,1593h2v2h-2zM410,1593h2v2h-2zM418,1593h2v2h-2zM426,1593h2v2h-2zM434,1593h2v2h-2zM442,1593h2v2h-2zM450,1593h2v2h-2zM458,1593h2v2h-2zM466,1593h2v2h-2zM474,1593h2v2h-2zM482,1593h2v2h-2zM490,1593h2v2h-2zM498,1593h2v2h-2zM506,1593h2v2h-2zM514,1593h2v2h-2zM522,1593h2v2h-2zM530,1593h2v2h-2zM538,1593h2v2h-2zM546,1593h2v2h-2zM554,1593h2v2h-2zM562,1593h2v2h-2zM570,1593h2v2h-2zM578,1593h2v2h-2zM586,1593h2v2h-2zM594,1593h2v2h-2zM602,1593h2v2h-2zM610,1593h2v2h-2zM618,1593h2v2h-2zM626,1593h2v2h-2zM634,1593h2v2h-2zM642,1593h2v2h-2zM650,1593h2v2h-2zM658,1593h2v2h-2zM666,1593h2v2h-2zM674,1593h2v2h-2zM682,1593h2v2h-2zM690,1593h2v2h-2zM698,1593h2v2h-2zM706,1593h2v2h-2zM714,1593h2v2h-2zM722,1593h2v2h-2zM730,1593h2v2h-2zM738,1593h2v2h-2zM746,1593h2v2h-2zM754,1593h2v2h-2zM762,1593h2v2h-2zM770,1593h2v2h-2zM778,1593h2v2h-2zM786,1593h2v2h-2zM794,1593h2v2h-2zM802,1593h2v2h-2zM810,1593h2v2h-2zM818,1593h2v2h-2zM826,1593h2v2h-2zM834,1593h2v2h-2zM842,1593h2v2h-2zM850,1593h2v2h-2zM858,1593h2v2h-2zM866,1593h2v2h-2zM874,1593h2v2h-2zM882,1593h2v2h-2zM890,1593h2v2h-2zM898,1593h2v2h-2zM906,1593h2v2h-2zM914,1593h2v2h-2zM922,1593h2v2h-2zM930,1593h2v2h-2zM938,1593h2v2h-2zM946,1593h2v2h-2zM954,1593h2v2h-2zM962,1593h2v2h-2zM970,1593h2v2h-2zM978,1593h2v2h-2zM986,1593h2v2h-2zM994,1593h2v2h-2zM1002,1593h2v2h-2zM1010,1593h2v2h-2zM1018,1593h2v2h-2zM1026,1593h2v2h-2zM1034,1593h2v2h-2zM1042,1593h2v2h-2zM1050,1593h2v2h-2zM1058,1593h2v2h-2zM1066,1593h2v2h-2zM1074,1593h2v2h-2zM1082,1593h2v2h-2zM1090,1593h2v2h-2zM1098,1593h2v2h-2zM1106,1593h2v2h-2zM1114,1593h2v2h-2zM1122,1593h2v2h-2zM1130,1593h2v2h-2zM1138,1593h2v2h-2zM1146,1593h2v2h-2zM1154,1593h2v2h-2zM1162,1593h2v2h-2zM1170,1593h2v2h-2zM1178,1593h2v2h-2zM1186,1593h2v2h-2zM1194,1593h2v2h-2zM1202,1593h2v2h-2zM1210,1593h2v2h-2zM1218,1593h2v2h-2zM1226,1593h2v2h-2zM1234,1593h2v2h-2zM1242,1593h2v2h-2zM1250,1593h2v2h-2zM1258,1593h2v2h-2zM1266,1593h2v2h-2zM1274,1593h2v2h-2zM1282,1593h2v2h-2zM1290,1593h2v2h-2zM1298,1593h2v2h-2zM1306,1593h2v2h-2zM1314,1593h2v2h-2zM1322,1593h2v2h-2zM1330,1593h2v2h-2zM1338,1593h2v2h-2zM1346,1593h2v2h-2zM1354,1593h2v2h-2zM1362,1593h2v2h-2zM1370,1593h2v2h-2zM1378,1593h2v2h-2zM1386,1593h2v2h-2zM1394,1593h2v2h-2zM1402,1593h2v2h-2zM1410,1593h2v2h-2zM1418,1593h2v2h-2zM1426,1593h2v2h-2zM1434,1593h2v2h-2zM1442,1593h2v2h-2zM1450,1593h2v2h-2zM1458,1593h2v2h-2zM1466,1593h2v2h-2zM1474,1593h2v2h-2zM1482,1593h2v2h-2zM1490,1593h2v2h-2zM1498,1593h2v2h-2zM1506,1593h2v2h-2zM1514,1593h2v2h-2zM1522,1593h2v2h-2zM1530,1593h2v2h-2zM1538,1593h2v2h-2zM1546,1593h2v2h-2zM1554,1593h2v2h-2zM1562,1593h2v2h-2zM1570,1593h2v2h-2zM1578,1593h2v2h-2zM1586,1593h2v2h-2zM1594,1593h2v2h-2zM1602,1593h2v2h-2zM1610,1593h2v2h-2zM1618,1593h2v2h-2zM1626,1593h2v2h-2zM1634,1593h2v2h-2zM1642,1593h2v2h-2zM1650,1593h2v2h-2zM1658,1593h2v2h-2zM1666,1593h2v2h-2zM1674,1593h2v2h-2zM1682,1593h2v2h-2zM1690,1593h2v2h-2zM1698,1593h2v2h-2zM1706,1593h2v2h-2zM1714,1593h2v2h-2zM1722,1593h2v2h-2zM1730,1593h2v2h-2zM1738,1593h2v2h-2zM1746,1593h2v2h-2zM1754,1593h2v2h-2zM1762,1593h2v2h-2zM1770,1593h2v2h-2zM1778,1593h2v2h-2zM1786,1593h2v2h-2zM1794,1593h2v2h-2zM1802,1593h2v2h-2zM1810,1593h2v2h-2zM1818,1593h2v2h-2zM1826,1593h2v2h-2zM1474,523h2v2h-2zM1482,523h2v2h-2zM1490,523h2v2h-2zM1498,523h2v2h-2zM1506,515h2v2h-2zM1506,523h2v2h-2zM1514,515h2v2h-2zM1514,523h2v2h-2zM1522,515h2v2h-2zM1530,515h2v2h-2zM1538,515h2v2h-2zM1546,515h2v2h-2zM1554,515h2v2h-2zM1562,515h2v2h-2zM1570,515h2v2h-2zM1578,515h2v2h-2zM1586,515h2v2h-2zM1594,515h2v2h-2zM1602,515h2v2h-2zM1602,523h2v2h-2zM1610,523h2v2h-2zM1618,523h2v2h-2zM1626,531h2v2h-2zM1634,531h2v2h-2zM1642,539h2v2h-2zM1650,539h2v2h-2zM1650,547h2v2h-2zM1658,547h2v2h-2zM1666,555h2v2h-2zM1674,563h2v2h-2zM1682,563h2v2h-2zM1682,571h2v2h-2zM1690,571h2v2h-2zM1690,579h2v2h-2zM1698,579h2v2h-2zM1698,587h2v2h-2zM1706,595h2v2h-2zM1714,603h2v2h-2zM1722,611h2v2h-2zM1730,619h2v2h-2zM1738,627h2v2h-2zM1330,483h2v2h-2zM1346,491h2v2h-2zM1354,491h2v2h-2zM1362,491h2v2h-2zM1362,499h2v2h-2zM1370,499h2v2h-2zM1378,507h2v2h-2zM1386,507h2v2h-2zM1394,515h2v2h-2zM1402,515h2v2h-2zM1402,523h2v2h-2zM1410,523h2v2h-2zM1418,523h2v2h-2z" fill="#4a8ad3" shape-rendering="crispEdges"/>
<path d="M1314,475h2v2h-2zM1330,491h2v2h-2zM1362,507h2v2h-2zM1394,523h2v2h-2z" fill="#fff" shape-rendering="crispEdges"/>
<path d="M290,1585h2v2h-2zM290,1553h2v2h-2zM290,1521h2v2h-2zM290,1489h2v2h-2zM290,1457h2v2h-2zM290,1425h2v2h-2zM290,1393h2v2h-2zM290,1361h2v2h-2zM290,1329h2v2h-2zM290,1297h2v2h-2zM290,1265h2v2h-2zM290,1233h2v2h-2zM290,1201h2v2h-2zM290,1169h2v2h-2zM290,1137h2v2h-2zM290,1105h2v2h-2zM290,1073h2v2h-2zM290,1041h2v2h-2zM290,1009h2v2h-2zM290,977h2v2h-2zM290,945h2v2h-2zM290,913h2v2h-2zM290,881h2v2h-2zM290,849h2v2h-2zM290,817h2v2h-2zM290,785h2v2h-2z" fill="#a9c8ea" shape-rendering="crispEdges"/>
<g clip-path="url(#plotw)">
<polyline points="292,709.4 296,716.4 300,723.2 302,726.6 304,729.9 306,733.1 308,736.2 310,739.3 312,742.2 314,745.1 316,747.9 318,750.6 320,753.2 322,755.7 324,758.1 326,760.4 328,762.7 330,764.9 332,767 334,769 336,771 338,772.9 340,774.8 342,776.6 344,778.3 346,780 348,781.6 350,783.2 352,784.7 354,786.2 356,787.6 358,789 360,790.4 362,791.7 364,793 366,794.2 368,795.5 370,796.7 372,797.8 374,799 376,800.1 378,801.2 380,802.2 382,803.3 384,804.3 386,805.3 388,806.3 390,807.3 392,808.3 394,809.2 396,810.1 398,811 400,811.9 402,812.8 404,813.6 406,814.4 408,815.2 410,816 412,816.7 414,817.5 416,818.1 418,818.8 420,819.5 422,820.1 424,820.7 426,821.3 428,821.8 430,822.3 432,822.8 434,823.3 436,823.7 438,824.1 440,824.5 442,824.8 444,825.1 446,825.4 448,825.7 450,825.9 452,826.1 454,826.2 456,826.4 458,826.4 460,826.5 462,826.5 464,826.5 466,826.5 468,826.4 470,826.3 472,826.1 474,825.9 476,825.7 478,825.4 480,825.1 482,824.8 484,824.4 486,824 488,823.6 490,823.1 492,822.5 494,822 496,821.3 498,820.7 500,820 502,819.2 504,818.5 506,817.6 508,816.8 510,815.8 512,814.9 514,813.9 516,812.8 518,811.7 520,810.6 522,809.4 524,808.2 526,806.9 528,805.6 530,804.2 532,802.8 534,801.4 536,799.9 538,798.3 540,796.8 542,795.2 544,793.5 546,791.8 548,790.1 550,788.3 552,786.6 554,784.7 556,782.9 558,781 560,779 562,777.1 564,775.1 566,773.1 568,771 570,768.9 572,766.8 574,764.7 576,762.5 578,760.3 580,758.1 582,755.9 584,753.6 586,751.3 588,749 590,746.7 592,744.3 594,742 596,739.6 598,737.2 600,734.8 602,732.5 604,730.1 606,727.6 608,725.2 610,722.8 612,720.4 614,718 616,715.6 618,713.2 620,710.8 622,708.5 624,706.1 626,703.7 628,701.4 630,699.1 632,696.8 634,694.5 636,692.2 638,690 640,687.8 642,685.6 644,683.4 646,681.3 648,679.2 650,677.1 652,675.1 654,673 656,671 658,669 660,667.1 662,665.2 664,663.3 666,661.4 668,659.5 670,657.7 672,655.9 674,654.1 676,652.3 678,650.6 680,648.9 682,647.2 684,645.6 686,643.9 688,642.3 690,640.7 692,639.1 694,637.6 696,636.1 698,634.6 700,633.1 702,631.6 704,630.2 706,628.8 708,627.4 710,626 712,624.6 714,623.3 716,622 718,620.7 720,619.4 722,618.2 724,617 726,615.7 728,614.5 730,613.4 732,612.2 734,611.1 736,609.9 738,608.8 740,607.7 742,606.7 744,605.6 746,604.6 748,603.6 750,602.5 752,601.6 754,600.6 756,599.6 758,598.7 760,597.7 762,596.8 764,595.9 766,595 768,594.1 770,593.3 772,592.4 774,591.6 776,590.7 778,589.9 780,589.1 782,588.3 784,587.5 786,586.7 788,586 790,585.2 792,584.5 794,583.7 796,583 798,582.3 800,581.6 802,580.9 804,580.2 806,579.5 808,578.9 810,578.2 812,577.5 814,576.9 816,576.2 818,575.6 820,575 822,574.3 824,573.7 826,573.1 828,572.5 830,571.9 832,571.3 834,570.7 836,570.1 838,569.5 840,568.9 842,568.4 844,567.8 846,567.3 848,566.7 850,566.2 852,565.6 854,565.1 856,564.6 858,564.1 860,563.6 862,563.1 864,562.6 866,562.1 868,561.6 870,561.1 872,560.6 874,560.2 876,559.7 878,559.3 880,558.8 882,558.4 884,558 886,557.5 888,557.1 890,556.7 892,556.3 894,555.9 896,555.5 898,555.1 900,554.8 902,554.4 904,554.1 906,553.7 908,553.4 910,553 912,552.7 914,552.4 916,552.1 918,551.7 920,551.5 922,551.2 924,550.9 926,550.6 928,550.3 930,550.1 932,549.8 934,549.6 936,549.3 938,549.1 940,548.9 942,548.7 944,548.5 946,548.3 948,548.1 950,547.9 952,547.7 954,547.6 956,547.4 958,547.3 960,547.2 962,547.1 964,547 966,546.9 968,546.9 970,546.9 972,546.8 974,546.8 976,546.9 978,546.9 980,547 982,547 984,547.1 986,547.3 988,547.4 990,547.6 992,547.8 994,548 996,548.2 998,548.5 1000,548.8 1002,549.1 1004,549.5 1006,549.9 1008,550.3 1010,550.7 1012,551.2 1014,551.6 1016,552.1 1018,552.6 1020,553.2 1022,553.7 1024,554.3 1026,554.9 1028,555.5 1030,556.1 1032,556.8 1034,557.4 1036,558.1 1038,558.8 1040,559.5 1042,560.2 1044,560.9 1046,561.7 1048,562.4 1050,563.2 1052,563.9 1054,564.7 1056,565.4 1058,566.2 1060,567 1062,567.8 1064,568.6 1066,569.3 1068,570.1 1070,570.9 1072,571.7 1074,572.5 1076,573.3 1078,574.1 1080,574.9 1082,575.6 1084,576.4 1086,577.2 1088,577.9 1090,578.7 1092,579.4 1094,580.2 1096,580.9 1098,581.6 1100,582.3 1102,583 1104,583.7 1106,584.3 1108,585 1110,585.6 1112,586.2 1114,586.8 1116,587.4 1118,588 1120,588.5 1122,589.1 1124,589.6 1126,590 1128,590.5 1130,591 1132,591.4 1134,591.8 1136,592.2 1138,592.6 1140,592.9 1142,593.2 1144,593.6 1146,593.9 1148,594.1 1150,594.4 1152,594.6 1154,594.9 1156,595.1 1158,595.3 1160,595.5 1162,595.6 1164,595.8 1166,595.9 1168,596 1170,596.1 1172,596.2 1174,596.2 1176,596.3 1178,596.3 1180,596.3 1182,596.3 1184,596.3 1186,596.2 1188,596.2 1190,596.1 1192,596.1 1194,596 1196,595.9 1198,595.7 1200,595.6 1202,595.5 1204,595.3 1206,595.1 1208,594.9 1210,594.7 1212,594.5 1214,594.3 1216,594.1 1218,593.8 1220,593.5 1222,593.3 1224,593 1226,592.7 1228,592.4 1230,592 1232,591.7 1234,591.4 1236,591 1238,590.6 1240,590.3 1242,589.9 1244,589.5 1246,589 1248,588.6 1250,588.2 1252,587.8 1254,587.3 1256,586.8 1258,586.4 1260,585.9 1262,585.4 1264,584.9 1266,584.4 1268,583.9 1270,583.4 1272,582.8 1274,582.3 1276,581.8 1278,581.2 1280,580.6 1282,580.1 1284,579.5 1286,578.9 1288,578.3 1290,577.7 1292,577.1 1294,576.5 1296,575.9 1298,575.3 1300,574.6 1302,574 1304,573.4 1306,572.7 1308,572.1 1310,571.4 1312,570.7 1314,570.1 1316,569.4 1318,568.7 1320,568 1322,567.4 1324,566.7 1326,566 1328,565.3 1330,564.6 1332,563.9 1334,563.2 1336,562.4 1338,561.7 1340,561 1342,560.3 1344,559.6 1346,558.8 1348,558.1 1350,557.4 1352,556.7 1354,555.9 1356,555.2 1358,554.5 1360,553.7 1362,553 1364,552.2 1366,551.5 1368,550.8 1370,550 1372,549.3 1374,548.5 1376,547.8 1378,547.1 1380,546.3 1382,545.6 1384,544.8 1386,544.1 1388,543.4 1390,542.6 1392,541.9 1394,541.1 1396,540.4 1398,539.7 1400,539 1402,538.2 1404,537.5 1406,536.8 1408,536.1 1410,535.3 1412,534.6 1414,533.9 1416,533.2 1418,532.5 1420,531.8 1422,531.1 1424,530.4 1426,529.7 1428,529 1430,528.4 1432,527.7 1434,527 1436,526.3 1438,525.7 1440,525 1442,524.4 1444,523.7 1446,523.1 1448,522.4 1450,521.8 1452,521.2 1454,520.6 1456,520 1458,519.3 1460,518.7 1462,518.2 1464,517.6 1466,517 1468,516.4 1470,515.9 1472,515.3 1474,514.8 1476,514.2 1478,513.7 1480,513.2 1482,512.6 1484,512.1 1486,511.6 1488,511.2 1490,510.7 1492,510.2 1494,509.7 1496,509.3 1498,508.9 1500,508.4 1502,508 1504,507.6 1506,507.2 1508,506.8 1510,506.4 1512,506 1514,505.7 1516,505.3 1518,505 1520,504.7 1522,504.4 1524,504.1 1526,503.8 1528,503.5 1530,503.2 1532,503 1534,502.7 1536,502.5 1538,502.3 1540,502.1 1542,501.9 1544,501.7 1546,501.6 1548,501.4 1550,501.3 1552,501.2 1554,501.1 1556,501 1558,501 1560,500.9 1562,500.9 1564,500.9 1566,500.9 1568,501 1570,501.1 1572,501.2 1574,501.3 1576,501.4 1578,501.6 1580,501.8 1582,502 1584,502.3 1586,502.6 1588,502.9 1590,503.3 1592,503.6 1594,504.1 1596,504.5 1598,505 1600,505.5 1602,506.1 1604,506.7 1606,507.3 1608,508 1610,508.7 1612,509.4 1614,510.2 1616,511 1618,511.8 1620,512.7 1622,513.6 1624,514.6 1626,515.6 1628,516.5 1630,517.6 1632,518.6 1634,519.6 1636,520.7 1638,521.8 1640,522.9 1642,524 1644,525.1 1646,526.3 1648,527.5 1650,528.7 1652,529.9 1654,531.1 1656,532.4 1658,533.8 1660,535.2 1662,536.6 1664,538.1 1666,539.6 1668,541.2 1670,542.8 1672,544.5 1674,546.2 1676,547.9 1678,549.7 1680,551.5 1682,553.4 1684,555.3 1686,557.2 1688,559.2 1690,561.2 1692,563.2 1694,565.3 1696,567.4 1698,569.5 1700,571.7 1702,573.9 1704,576.1 1706,578.3 1708,580.6 1710,582.9 1712,585.2 1714,587.5 1716,589.8 1718,592.2 1720,594.6 1722,597 1724,599.4 1726,601.9 1728,604.3 1730,606.8 1732,609.3 1734,611.8 1736,614.3 1738,616.8 1740,619.3 1742,621.8 1744,624.3 1746,626.9 1748,629.4 1750,631.9 1752,634.5 1754,637 1756,639.6 1758,642.1 1760,644.7 1762,647.2 1764,649.7 1766,652.2 1768,654.8 1770,657.3 1772,659.8 1774,662.3 1776,664.8 1778,667.2 1780,669.7 1782,672.1 1784,674.6 1786,677 1788,679.4 1790,681.7 1792,684.1 1794,686.4 1796,688.7 1798,691 1800,693.3 1802,695.6 1804,697.8 1806,700 1808,702.1 1810,704.3 1812,706.4 1814,708.5 1816,710.5 1818,712.5 1820,714.5 1821,715.5 1824,718.4" fill="none" stroke="#5b9bd5" stroke-width="4.8" stroke-linejoin="round"/>
<polyline points="292,744.4 296,745 300,745.6 302,745.9 304,746.2 306,746.4 308,746.7 310,747 312,747.3 314,747.5 316,747.8 318,748.1 320,748.3 322,748.6 324,748.8 326,749.1 328,749.3 330,749.5 332,749.8 334,750 336,750.2 338,750.4 340,750.7 342,750.9 344,751.1 346,751.3 348,751.5 350,751.7 352,751.9 354,752 356,752.2 358,752.4 360,752.6 362,752.7 364,752.9 366,753 368,753.2 370,753.3 372,753.5 374,753.6 376,753.8 378,753.9 380,754 382,754.1 384,754.2 386,754.4 388,754.5 390,754.6 392,754.6 394,754.7 396,754.8 398,754.9 400,755 402,755 404,755.1 406,755.2 408,755.2 410,755.3 412,755.3 414,755.3 416,755.4 418,755.4 420,755.4 422,755.4 424,755.4 426,755.4 428,755.4 430,755.4 432,755.4 434,755.4 436,755.4 438,755.4 440,755.3 442,755.3 444,755.2 446,755.2 448,755.1 450,755.1 452,755 454,754.9 456,754.8 458,754.7 460,754.6 462,754.5 464,754.4 466,754.3 468,754.2 470,754.1 472,753.9 474,753.8 476,753.7 478,753.5 480,753.4 482,753.2 484,753 486,752.9 488,752.7 490,752.5 492,752.3 494,752.1 496,751.9 498,751.7 500,751.4 502,751.2 504,751 506,750.7 508,750.5 510,750.2 512,750 514,749.7 516,749.4 518,749.2 520,748.9 522,748.6 524,748.3 526,748 528,747.6 530,747.3 532,747 534,746.6 536,746.3 538,746 540,745.6 542,745.2 544,744.9 546,744.5 548,744.1 550,743.7 552,743.3 554,742.9 556,742.5 558,742 560,741.6 562,741.2 564,740.7 566,740.3 568,739.8 570,739.3 572,738.8 574,738.4 576,737.9 578,737.4 580,736.9 582,736.3 584,735.8 586,735.3 588,734.7 590,734.2 592,733.6 594,733.1 596,732.5 598,731.9 600,731.3 602,730.7 604,730.1 606,729.5 608,728.9 610,728.3 612,727.7 614,727 616,726.4 618,725.7 620,725.1 622,724.4 624,723.7 626,723 628,722.3 630,721.6 632,720.9 634,720.2 636,719.5 638,718.8 640,718 642,717.3 644,716.5 646,715.8 648,715 650,714.3 652,713.5 654,712.7 656,711.9 658,711.1 660,710.3 662,709.5 664,708.7 666,707.8 668,707 670,706.2 672,705.3 674,704.5 676,703.6 678,702.7 680,701.9 682,701 684,700.1 686,699.2 688,698.3 690,697.4 692,696.5 694,695.6 696,694.6 698,693.7 700,692.8 702,691.8 704,690.9 706,689.9 708,688.9 710,688 712,687 714,686 716,685 718,684 720,683 722,682 724,681 726,679.9 728,678.9 730,677.9 732,676.8 734,675.8 736,674.7 738,673.7 740,672.6 742,671.5 744,670.4 746,669.4 748,668.3 750,667.2 752,666.1 754,665 756,663.8 758,662.7 760,661.6 762,660.5 764,659.3 766,658.2 768,657 770,655.9 772,654.7 774,653.6 776,652.4 778,651.2 780,650.1 782,648.9 784,647.7 786,646.5 788,645.3 790,644.1 792,642.9 794,641.7 796,640.5 798,639.3 800,638.1 802,636.9 804,635.6 806,634.4 808,633.2 810,632 812,630.7 814,629.5 816,628.2 818,627 820,625.7 822,624.5 824,623.2 826,622 828,620.7 830,619.5 832,618.2 834,616.9 836,615.7 838,614.4 840,613.1 842,611.8 844,610.6 846,609.3 848,608 850,606.7 852,605.4 854,604.2 856,602.9 858,601.6 860,600.3 862,599 864,597.7 866,596.4 868,595.1 870,593.9 872,592.6 874,591.3 876,590 878,588.7 880,587.4 882,586.1 884,584.8 886,583.5 888,582.2 890,580.9 892,579.6 894,578.3 896,577 898,575.8 900,574.5 902,573.2 904,571.9 906,570.6 908,569.3 910,568 912,566.7 914,565.5 916,564.2 918,562.9 920,561.6 922,560.3 924,559.1 926,557.8 928,556.5 930,555.2 932,554 934,552.7 936,551.5 938,550.2 940,548.9 942,547.7 944,546.4 946,545.2 948,543.9 950,542.7 952,541.4 954,540.2 956,539 958,537.7 960,536.5 962,535.3 964,534.1 966,532.8 968,531.6 970,530.4 972,529.2 974,528 976,526.8 978,525.6 980,524.4 982,523.2 984,522.1 986,520.9 988,519.7 990,518.6 992,517.4 994,516.2 996,515.1 998,513.9 1000,512.8 1002,511.7 1004,510.5 1006,509.4 1008,508.3 1010,507.2 1012,506.1 1014,505 1016,503.9 1018,502.8 1020,501.7 1022,500.6 1024,499.5 1026,498.5 1028,497.4 1030,496.4 1032,495.3 1034,494.3 1036,493.2 1038,492.2 1040,491.2 1042,490.2 1044,489.2 1046,488.2 1048,487.2 1050,486.2 1052,485.2 1054,484.3 1056,483.3 1058,482.3 1060,481.4 1062,480.5 1064,479.5 1066,478.6 1068,477.7 1070,476.8 1072,475.9 1074,475 1076,474.1 1078,473.3 1080,472.4 1082,471.6 1084,470.7 1086,469.9 1088,469.1 1090,468.3 1092,467.5 1094,466.7 1096,465.9 1098,465.1 1100,464.3 1102,463.6 1104,462.8 1106,462.1 1108,461.4 1110,460.7 1112,460 1114,459.3 1116,458.6 1118,457.9 1120,457.3 1122,456.6 1124,456 1126,455.4 1128,454.8 1130,454.2 1132,453.6 1134,453 1136,452.5 1138,451.9 1140,451.4 1142,450.9 1144,450.4 1146,449.9 1148,449.4 1150,449 1152,448.5 1154,448.1 1156,447.7 1158,447.3 1160,446.9 1162,446.5 1164,446.2 1166,445.8 1168,445.5 1170,445.2 1172,444.9 1174,444.6 1176,444.4 1178,444.1 1180,443.9 1182,443.7 1184,443.5 1186,443.3 1188,443.2 1190,443.1 1192,442.9 1194,442.8 1196,442.7 1198,442.7 1200,442.6 1202,442.6 1204,442.6 1206,442.6 1208,442.6 1210,442.6 1212,442.6 1214,442.7 1216,442.8 1218,442.9 1220,443 1222,443.1 1224,443.2 1226,443.4 1228,443.6 1230,443.7 1232,443.9 1234,444.1 1236,444.4 1238,444.6 1240,444.9 1242,445.2 1244,445.4 1246,445.7 1248,446.1 1250,446.4 1252,446.7 1254,447.1 1256,447.5 1258,447.9 1260,448.3 1262,448.7 1264,449.1 1266,449.6 1268,450 1270,450.5 1272,451 1274,451.5 1276,452 1278,452.5 1280,453.1 1282,453.6 1284,454.2 1286,454.7 1288,455.3 1290,455.9 1292,456.6 1294,457.2 1296,457.8 1298,458.5 1300,459.1 1302,459.8 1304,460.5 1306,461.2 1308,461.9 1310,462.7 1312,463.4 1314,464.1 1316,464.9 1318,465.7 1320,466.5 1322,467.3 1324,468.1 1326,468.9 1328,469.7 1330,470.6 1332,471.4 1334,472.3 1336,473.1 1338,474 1340,474.9 1342,475.8 1344,476.7 1346,477.7 1348,478.6 1350,479.6 1352,480.5 1354,481.5 1356,482.5 1358,483.4 1360,484.4 1362,485.4 1364,486.5 1366,487.5 1368,488.5 1370,489.6 1372,490.6 1374,491.7 1376,492.7 1378,493.8 1380,494.9 1382,496 1384,497.1 1386,498.2 1388,499.3 1390,500.4 1392,501.5 1394,502.6 1396,503.7 1398,504.9 1400,506 1402,507.1 1404,508.3 1406,509.4 1408,510.6 1410,511.7 1412,512.9 1414,514 1416,515.1 1418,516.3 1420,517.5 1422,518.6 1424,519.8 1426,520.9 1428,522.1 1430,523.2 1432,524.4 1434,525.5 1436,526.7 1438,527.8 1440,529 1442,530.1 1444,531.3 1446,532.4 1448,533.6 1450,534.7 1452,535.9 1454,537 1456,538.2 1458,539.3 1460,540.5 1462,541.6 1464,542.8 1466,543.9 1468,545.1 1470,546.2 1472,547.4 1474,548.5 1476,549.7 1478,550.8 1480,552 1482,553.1 1484,554.2 1486,555.4 1488,556.5 1490,557.7 1492,558.8 1494,559.9 1496,561.1 1498,562.2 1500,563.3 1502,564.5 1504,565.6 1506,566.7 1508,567.8 1510,568.9 1512,570 1514,571.2 1516,572.3 1518,573.4 1520,574.4 1522,575.5 1524,576.6 1526,577.7 1528,578.8 1530,579.9 1532,580.9 1534,582 1536,583 1538,584.1 1540,585.1 1542,586.2 1544,587.2 1546,588.2 1548,589.2 1550,590.2 1552,591.2 1554,592.2 1556,593.2 1558,594.2 1560,595.2 1562,596.2 1564,597.1 1566,598.1 1568,599 1570,600 1572,600.9 1574,601.9 1576,602.8 1578,603.7 1580,604.6 1582,605.5 1584,606.4 1586,607.3 1588,608.2 1590,609.1 1592,610 1594,610.8 1596,611.7 1598,612.5 1600,613.4 1602,614.2 1604,615 1606,615.9 1608,616.7 1610,617.5 1612,618.3 1614,619.1 1616,619.9 1618,620.7 1620,621.4 1622,622.2 1624,623 1626,623.7 1628,624.5 1630,625.2 1632,625.9 1634,626.7 1636,627.4 1638,628.1 1640,628.8 1642,629.5 1644,630.2 1646,630.9 1648,631.5 1650,632.2 1652,632.9 1654,633.5 1656,634.1 1658,634.8 1660,635.4 1662,636 1664,636.6 1666,637.3 1668,637.8 1670,638.4 1672,639 1674,639.6 1676,640.2 1678,640.7 1680,641.3 1682,641.8 1684,642.4 1686,642.9 1688,643.4 1690,643.9 1692,644.4 1694,644.9 1696,645.4 1698,645.9 1700,646.4 1702,646.8 1704,647.3 1706,647.8 1708,648.2 1710,648.6 1712,649.1 1714,649.5 1716,649.9 1718,650.3 1720,650.7 1722,651.1 1724,651.5 1726,651.9 1728,652.2 1730,652.6 1732,652.9 1734,653.3 1736,653.6 1738,653.9 1740,654.3 1742,654.6 1744,654.9 1746,655.2 1748,655.5 1750,655.7 1752,656 1754,656.3 1756,656.5 1758,656.8 1760,657 1762,657.3 1764,657.5 1766,657.7 1768,657.9 1770,658.1 1772,658.3 1774,658.5 1776,658.7 1778,658.8 1780,659 1782,659.1 1784,659.3 1786,659.4 1788,659.5 1790,659.7 1792,659.8 1794,659.9 1796,660 1798,660 1800,660.1 1802,660.2 1804,660.3 1806,660.3 1808,660.4 1810,660.4 1812,660.4 1814,660.4 1816,660.5 1818,660.5 1820,660.5 1821,660.5 1824,660.4 1827,660.4" fill="none" stroke="#7030a0" stroke-width="6.8" stroke-linejoin="round"/>
</g>
<g clip-path="url(#plotr)">
<line x1="297.5" y1="769.5" x2="1830" y2="769.5" stroke="#f00" stroke-width="7" stroke-linecap="round" stroke-dasharray="15.5 16.77"/>
</g>
<line x1="296.5" y1="1242.5" x2="1798.4" y2="1242.5" stroke="#000" stroke-width="6.6" stroke-linecap="round" stroke-dasharray="38 26.8 0.01 26.8"/>
<rect x="297.5" y="22.5" width="1526" height="1553" fill="none" stroke="#000" stroke-width="5"/>
<path d="M1123.5,534.8 L755.6,376.3" stroke="#000" stroke-width="7" stroke-linecap="round" fill="none"/>
<polygon points="723,362.3 751.4,396.1 767.1,359.7" fill="#000"/>
<path d="M1249.3,445.1 L1281.2,406.1" stroke="#f00" stroke-width="7" stroke-linecap="round" fill="none"/>
<polygon points="1303.7,378.6 1263.4,396.6 1294,421.7" fill="#f00"/>
<path d="M1673.9,587.6 L1698.4,367.6" stroke="#000" stroke-width="7" stroke-linecap="round" fill="none"/>
<polygon points="1702.3,332.3 1678.3,369.4 1717.6,373.7" fill="#000"/>
<path d="M669.9,654.5 L796.5,654.5" stroke="#f00" stroke-width="7" stroke-linecap="round" fill="none"/>
<polygon points="832,654.5 792.5,634.7 792.5,674.3" fill="#f00"/>

<g font-size="64.5" fill="#000">
<text x="439.5" y="278.5">RE blocked power</text>
<text x="542.7" y="359.2">generation</text>
<text x="1439.3" y="249.2">Standby power</text>
<text x="1496.8" y="326.6">generation</text>
<text x="448.4" y="1005.9">Renewable energy generation</text>
<text x="461.2" y="1430.8">Thermal power generation</text>
</g>
<g font-size="64.5" fill="#f00">
<text x="1030.9" y="278.9">Theoretical</text>
<text x="961.7" y="357.9">generation curve</text>
<text x="841.4" y="691.1">Load curve</text>
</g>
<g font-style="italic">
<text x="117.5" y="772.6" font-size="66" fill="#f00">P</text>
<text x="157.8" y="782.7" font-size="42" fill="#f00">Tmax</text>
<text x="134.5" y="1258.6" font-size="66" fill="#000">P</text>
<text x="175.8" y="1266.7" font-size="42" fill="#000">Tmin</text>
</g>
<g font-size="69" fill="#000" text-anchor="middle">
<text x="260" y="1651.3">0</text>
<text x="679.6" y="1651.3">6</text>
<text x="1079.1" y="1651.3">12</text>
<text x="1445.4" y="1651.3">18</text>
<text x="1823.9" y="1651.3">24</text>
</g>
<text x="907.5" y="1720.7" font-size="85" letter-spacing="1" fill="#000">Time (h)</text>
<text transform="translate(86,1034.6) rotate(-90)" font-size="85" letter-spacing="1.8" fill="#000">Power (MW)</text>
</svg>
</body></html>
